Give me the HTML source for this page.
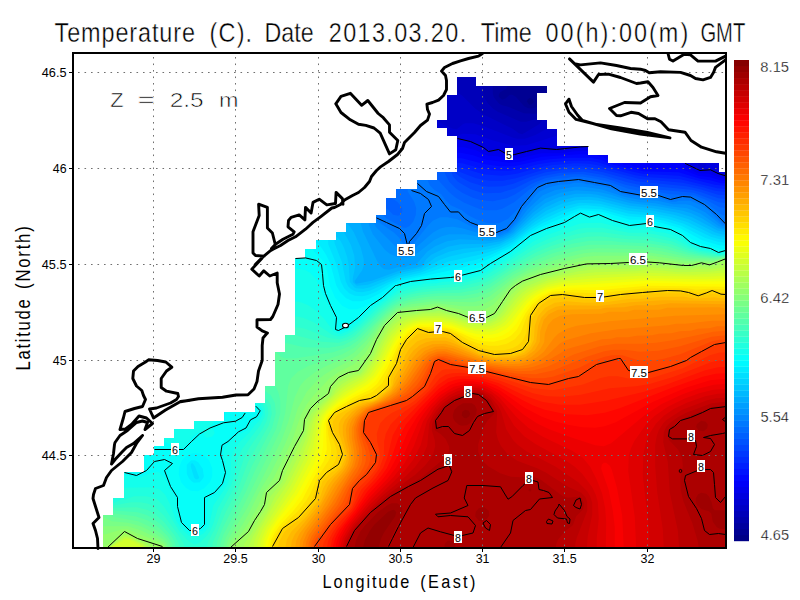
<!DOCTYPE html><html><head><meta charset="utf-8"><style>html,body{margin:0;padding:0;background:#fff;width:800px;height:600px;overflow:hidden}</style></head><body><svg width="800" height="600" viewBox="0 0 800 600" style="position:absolute;left:0;top:0">
<rect x="0" y="0" width="800" height="600" fill="#fff"/>
<defs><clipPath id="m"><polygon points="103,547.5 103,515 113,515 113,498 124,498 124,472 144,472 144,455 154,455 154,446 164,446 164,438 174,438 174,429 194,429 194,421 224.5,421 224.5,412 255,412 255,403 265,403 265,386 275,386 275,352 285,352 285,335 295,335 295,258 305,258 305,249 316,249 316,240 336,240 336,232 346,232 346,223 376,223 376,215 386,215 386,198 396,198 396,189 417,189 417,180 437,180 437,172 457,172 457,136 447,136 447,128 437,128 437,120 447,120 447,95 457,95 457,77 476,77 476,86 547,86 547,93 537,93 537,120 547,120 547,129 557,129 557,146 588,146 588,155 608,155 608,163 719,163 719,172 725.5,172 725.5,547.5"/></clipPath></defs>
<g clip-path="url(#m)">
<rect x="73" y="53" width="653" height="495" fill="#000086"/>
<path fill="#000093" fill-rule="evenodd" d="M530.2 97.8L532.8 99.2L533.8 101.8L531.8 104.2L529.2 104.8L526.8 101.2L527.8 99.2ZM72.2 52.2L72.2 548.8L726.8 548.8L726.8 52.2Z"/>
<path fill="#00009f" fill-rule="evenodd" d="M72.2 52.2L72.2 548.8L726.8 548.8L726.8 52.2L652.2 52.2L652.2 53.8L637.8 68.2L635.2 68.2L627.8 76.2L624.8 76.8L621.8 80.2L619.8 80.2L615.8 84.2L612.8 84.8L607.8 90.2L604.8 90.8L597.8 98.2L592.8 98.8L592.2 100.2L586.8 100.8L586.2 102.2L580.8 102.8L580.2 104.2L574.8 104.8L574.2 106.2L566.8 106.8L565.8 108.8L553.8 108.8L549.8 106.2L539.8 106.2L532.8 108.2L528.2 108.2L524.2 106.2L515.8 96.8L512.2 94.8L509.8 94.8L505.8 98.2L502.2 99.8L498.8 96.8L498.8 94.8L500.2 92.2L506.2 88.8L507.2 86.8L507.2 52.2Z"/>
<path fill="#0000ac" fill-rule="evenodd" d="M72.2 52.2L72.2 548.8L726.8 548.8L726.8 52.2L652.8 52.2L652.8 53.8L637.8 68.8L635.2 68.8L628.2 76.8L625.8 76.8L622.2 80.8L619.8 80.8L616.2 84.8L613.8 84.8L608.2 90.8L605.8 90.8L598.2 98.8L593.8 98.8L592.2 100.8L587.8 100.8L586.2 102.8L581.8 102.8L580.2 104.8L575.8 104.8L574.2 106.8L567.8 106.8L565.8 109.2L551.2 108.8L549.8 110.8L546.2 112.8L533.8 113.8L523.8 113.2L508.2 106.8L502.2 105.2L499.2 103.8L493.8 97.2L492.8 93.2L492.8 74.2L497.2 68.8L497.2 65.8L499.2 64.2L499.2 61.8L500.8 60.8L501.2 57.8L503.2 55.8L503.2 52.2Z"/>
<path fill="#0000b9" fill-rule="evenodd" d="M72.2 52.2L72.2 548.8L726.8 548.8L726.8 52.2L652.8 52.2L652.8 54.2L638.2 68.8L635.8 68.8L627.8 77.2L625.2 77.2L621.8 81.2L619.2 81.2L615.8 85.2L613.2 85.2L607.8 91.2L605.2 91.2L597.8 99.2L593.8 99.2L592.2 101.2L587.8 101.2L586.2 103.2L581.8 103.2L580.2 105.2L575.8 105.2L574.2 107.2L567.8 107.2L566.2 109.2L551.8 109.2L541.8 118.2L538.2 118.2L526.2 121.8L520.8 121.8L497.8 111.8L493.2 108.8L487.8 103.2L484.2 97.2L482.8 91.2L483.2 84.2L490.8 75.8L490.8 73.8L496.2 68.2L496.2 65.8L498.2 64.2L498.2 61.8L500.2 60.2L500.2 57.8L502.2 56.2L502.2 52.2Z"/>
<path fill="#0000c6" fill-rule="evenodd" d="M72.2 52.2L72.2 548.8L726.8 548.8L726.8 52.2L653.2 52.2L653.2 53.8L637.8 69.2L635.8 69.2L628.2 77.2L625.8 77.2L622.2 81.2L619.8 81.2L616.2 85.2L613.8 85.2L608.2 91.2L605.8 91.2L598.2 99.2L593.8 99.8L591.8 101.8L587.8 101.8L585.8 103.8L581.8 103.8L579.8 105.8L575.8 105.8L573.8 107.8L567.8 107.8L566.2 109.8L552.2 109.8L543.8 118.2L539.2 124.2L522.2 134.2L518.8 133.2L512.8 128.8L484.2 114.8L474.8 108.2L461.8 95.2L454.2 90.8L446.8 83.2L444.2 83.2L438.2 77.2L436.2 77.2L434.2 75.2L432.2 75.2L430.2 73.2L428.2 73.2L424.2 69.2L422.2 69.2L420.2 67.2L418.2 67.2L416.2 65.2L414.2 65.2L412.2 63.2L410.2 63.2L406.2 59.2L404.2 59.2L402.2 57.2L400.2 57.2L398.2 55.2L396.2 55.2L394.8 53.8L394.8 52.2Z"/>
<path fill="#0000d2" fill-rule="evenodd" d="M72.2 52.2L72.2 548.8L726.8 548.8L726.8 52.2L653.2 52.2L653.2 54.2L638.2 69.2L636.2 69.2L628.2 77.8L625.8 77.8L622.2 81.8L619.8 81.8L616.2 85.8L613.8 85.8L608.2 91.8L605.8 91.8L598.2 99.8L594.2 99.8L592.8 101.8L588.2 101.8L586.8 103.8L582.2 103.8L580.8 105.8L576.2 105.8L574.8 107.8L568.2 107.8L567.8 109.2L559.2 117.2L558.8 120.2L554.2 124.8L547.2 127.8L544.2 130.2L534.8 135.2L524.8 138.8L517.2 138.8L513.2 137.8L483.8 126.2L473.2 123.2L465.2 123.2L462.8 124.2L456.8 129.2L452.8 128.8L439.8 122.8L437.8 120.2L437.8 112.2L436.2 112.2L435.8 110.2L432.2 110.2L431.8 108.2L430.2 108.2L429.8 106.2L427.8 105.8L427.8 104.2L424.2 104.2L423.8 102.2L420.2 102.2L419.8 100.2L416.2 100.2L415.8 98.2L412.2 98.2L411.8 96.2L406.2 96.2L405.8 94.2L402.2 94.2L401.8 92.2L396.2 92.2L395.8 90.2L390.2 90.2L389.8 88.2L386.2 88.2L385.8 86.2L380.2 86.2L379.8 84.2L376.2 84.2L375.8 82.2L370.2 82.2L369.8 80.2L364.2 80.2L363.8 78.2L360.2 78.2L359.8 76.2L354.2 76.2L353.8 74.2L350.2 74.2L349.8 72.2L344.2 72.2L343.8 70.2L338.2 70.2L337.8 68.2L334.2 68.2L333.8 66.2L328.2 66.2L327.8 64.2L324.2 64.2L323.8 62.2L318.2 62.2L317.8 60.2L312.2 60.2L311.8 58.2L308.2 58.2L307.8 56.2L302.2 56.2L301.8 52.2Z"/>
<path fill="#0000df" fill-rule="evenodd" d="M72.2 52.2L72.2 548.8L726.8 548.8L726.8 52.2L706.2 52.2L706.2 165.8L703.2 168.8L700.8 168.8L698.2 166.2L698.2 52.2L653.8 52.2L653.2 54.8L638.8 69.2L635.8 69.8L628.8 77.8L626.2 77.8L622.8 81.8L620.2 81.8L616.8 85.8L614.2 85.8L608.8 91.8L606.2 91.8L598.8 99.8L595.2 100.8L594.8 103.8L592.8 105.2L592.8 107.8L590.8 109.2L590.8 111.8L586.8 115.2L586.8 117.8L578.8 125.2L578.8 127.8L571.8 134.2L559.8 134.8L526.2 145.2L513.2 145.8L492.2 140.2L475.2 134.2L462.8 133.8L454.2 136.8L452.2 139.2L452.2 143.8L450.8 144.2L445.8 150.2L442.8 150.8L439.8 154.2L436.2 154.2L435.2 152.2L418.2 152.2L416.8 150.2L412.2 150.2L410.8 148.2L408.2 148.2L406.8 146.2L404.2 146.2L402.8 144.2L398.2 144.2L396.8 142.2L394.2 142.2L392.8 140.2L390.2 140.2L388.8 138.2L386.2 138.2L382.8 134.2L380.2 134.2L376.8 130.2L374.2 130.2L370.8 126.2L368.2 126.2L365.2 122.8L362.2 122.2L359.2 118.8L356.2 118.2L354.2 116.2L352.2 116.2L349.2 112.8L346.2 112.2L345.2 110.8L342.2 110.2L340.2 108.2L338.2 108.2L335.2 104.8L332.2 104.2L330.2 102.2L328.2 102.2L325.2 98.8L322.2 98.2L320.2 96.2L318.2 96.2L315.2 92.8L312.2 92.2L311.2 90.8L308.2 90.2L306.2 88.2L304.2 88.2L301.2 84.8L298.2 84.2L297.2 82.8L294.2 82.2L291.2 78.8L288.2 78.2L286.2 76.2L284.2 76.2L272.8 64.2L270.2 64.2L259.8 53.8L259.8 52.2Z"/>
<path fill="#0000ec" fill-rule="evenodd" d="M72.2 52.2L72.2 548.8L726.8 548.8L726.8 176.2L722.2 176.2L721.2 174.2L718.2 174.2L717.2 172.2L714.2 172.2L712.8 170.2L698.2 170.2L696.2 168.2L694.2 168.2L692.2 166.2L690.2 166.2L688.2 163.8L688.8 52.2L653.8 52.2L653.8 54.8L638.8 69.8L636.2 69.8L629.2 78.2L626.2 78.2L623.2 82.2L620.2 82.2L617.2 86.2L614.2 86.2L614.2 87.2L612.2 88.2L609.2 92.2L606.2 92.2L606.2 93.2L604.2 94.2L604.2 95.2L602.2 96.2L599.2 100.2L597.8 100.2L595.8 102.2L595.8 104.8L593.8 106.2L593.8 108.8L591.8 110.2L591.8 113.2L588.2 116.2L588.2 119.2L586.2 120.2L585.8 122.2L584.2 122.2L583.8 124.2L582.2 124.2L581.8 126.2L580.2 126.2L580.2 129.8L578.2 130.2L578.2 131.8L576.8 133.2L576.8 148.2L566.8 148.2L565.8 150.2L548.2 150.2L546.2 148.2L541.8 148.2L539.8 150.2L533.8 150.2L531.8 152.2L525.8 152.2L523.8 154.2L517.8 154.2L515.8 156.2L510.2 156.2L509.2 154.8L506.2 154.2L500.2 150.2L495.8 150.2L493.8 152.2L488.2 152.2L482.2 146.2L480.2 146.2L474.2 142.2L468.2 142.2L466.2 140.2L458.2 140.2L456.2 141.2L445.8 151.2L443.8 151.2L440.8 154.2L435.8 154.2L435.2 152.8L433.8 152.2L418.2 152.8L416.8 150.8L412.2 150.8L410.8 148.8L408.2 148.8L406.8 146.8L404.2 146.8L402.8 144.8L398.2 144.8L396.8 142.8L394.2 142.8L392.8 140.8L390.2 140.8L388.8 138.8L386.2 138.8L382.8 134.8L380.2 134.8L376.8 130.8L374.2 130.8L370.8 126.8L368.2 126.8L364.8 122.8L362.2 122.8L358.8 118.8L356.2 118.8L354.8 116.8L352.2 116.8L348.8 112.8L346.2 112.8L344.8 110.8L342.2 110.8L340.8 108.8L338.2 108.8L334.8 104.8L332.2 104.8L330.8 102.8L328.2 102.8L324.8 98.8L322.2 98.8L320.8 96.8L318.2 96.8L314.8 92.8L312.2 92.8L310.8 90.8L308.2 90.8L306.8 88.8L304.2 88.8L300.8 84.8L298.2 84.8L296.8 82.8L294.2 82.8L290.8 78.8L288.2 78.8L286.8 76.8L283.8 76.2L283.2 74.8L282.2 74.8L281.2 72.8L280.2 72.8L279.2 70.8L278.2 70.8L277.2 68.8L273.2 65.8L273.2 64.8L269.8 64.2L269.2 62.8L268.2 62.8L267.2 60.8L266.2 60.8L265.2 58.8L264.2 58.8L263.2 56.8L259.8 54.2L259.8 52.2Z"/>
<path fill="#0000f9" fill-rule="evenodd" d="M72.2 52.2L72.2 548.8L726.8 548.8L726.8 178.8L721.2 178.2L708.8 173.8L697.8 173.2L685.8 167.2L682.2 163.8L682.2 52.2L654.2 52.2L653.8 55.2L639.2 69.8L636.2 70.2L631.2 76.2L631.2 80.2L629.2 81.8L629.2 84.2L627.2 85.8L627.2 90.2L625.2 91.8L625.2 94.2L623.2 95.8L623.2 100.2L621.2 101.8L621.2 104.2L619.2 105.8L619.2 110.2L617.2 111.8L617.2 114.2L615.2 115.8L615.2 120.2L613.2 121.8L613.2 124.2L611.2 125.8L611.2 128.2L609.2 129.8L609.2 134.2L605.2 137.8L605.2 140.2L601.2 143.8L601.2 146.2L595.8 150.8L574.8 151.2L561.2 153.2L541.2 153.2L515.8 159.2L509.2 159.2L497.2 156.2L487.8 155.8L475.8 150.2L463.8 147.2L452.2 147.2L446.2 151.8L443.8 151.8L440.8 154.8L436.2 154.8L434.8 152.8L417.8 152.8L416.8 150.8L412.2 150.8L410.8 148.8L408.2 148.8L406.8 146.8L404.2 146.8L402.8 144.8L398.2 144.8L396.8 142.8L394.2 142.8L392.8 140.8L390.2 140.8L388.8 138.8L386.2 138.8L382.8 134.8L380.2 134.8L376.8 130.8L374.2 130.8L370.2 126.8L367.8 126.8L364.2 122.8L361.8 122.8L358.2 118.8L355.8 118.8L354.2 116.8L351.8 116.8L348.2 112.8L345.8 112.8L344.2 110.8L341.8 110.8L340.2 108.8L337.8 108.8L334.2 104.8L331.8 104.8L330.2 102.8L327.8 102.8L324.2 98.8L321.8 98.8L320.2 96.8L317.8 96.8L314.2 92.8L311.8 92.8L310.2 90.8L307.8 90.8L306.2 88.8L303.8 88.8L300.2 84.8L297.8 84.8L296.2 82.8L293.8 82.8L290.2 78.8L288.2 78.8L286.2 76.8L284.2 76.8L272.8 64.8L270.2 64.8L259.2 53.8L259.2 52.2Z"/>
<path fill="#0006ff" fill-rule="evenodd" d="M72.2 52.2L72.2 548.8L726.8 548.8L726.8 180.8L721.8 180.8L710.2 177.2L698.2 175.8L679.8 168.2L641.8 168.8L639.2 166.8L633.8 166.8L631.2 164.8L623.8 164.8L621.2 162.8L614.2 162.8L611.8 160.8L609.8 160.8L607.8 158.8L605.8 158.8L602.8 156.8L599.8 156.8L596.2 154.8L579.2 154.2L541.8 156.8L520.2 161.8L508.8 162.8L486.2 159.8L473.2 155.2L460.8 152.8L444.2 152.8L441.2 154.8L435.8 154.8L434.2 152.8L417.8 152.8L416.2 150.8L411.8 150.8L410.2 148.8L407.8 148.8L406.2 146.8L403.8 146.8L402.2 144.8L397.8 144.8L396.2 142.8L393.8 142.8L392.2 140.8L389.8 140.8L388.2 138.8L385.8 138.8L382.2 134.8L379.8 134.8L376.2 130.8L373.8 130.8L370.2 126.8L367.8 126.8L364.2 122.8L361.8 122.8L358.2 118.8L355.8 118.8L354.2 116.8L351.8 116.8L348.2 112.8L345.8 112.8L344.2 110.8L341.8 110.8L340.2 108.8L337.8 108.8L334.2 104.8L331.8 104.8L330.2 102.8L327.8 102.8L324.2 98.8L321.8 98.8L320.2 96.8L317.8 96.8L314.2 92.8L311.8 92.8L310.2 90.8L307.8 90.8L306.2 88.8L303.8 88.8L300.2 84.8L297.8 84.8L296.2 82.8L293.8 82.8L290.2 78.8L287.8 78.8L286.2 76.8L284.2 76.8L272.8 64.8L270.2 64.8L259.2 53.8L259.2 52.2Z"/>
<path fill="#0013ff" fill-rule="evenodd" d="M72.2 52.2L72.2 548.8L726.8 548.8L726.8 183.2L721.2 183.2L710.2 180.2L700.2 178.8L678.8 172.2L643.2 171.2L613.2 164.8L600.8 159.8L590.8 157.8L569.8 157.8L549.8 159.2L538.8 160.8L514.2 166.2L499.2 166.2L485.2 164.2L461.8 158.2L444.2 157.8L441.2 155.2L436.2 155.2L434.2 153.2L418.2 153.2L415.8 150.8L411.8 150.8L410.8 149.2L407.8 148.8L406.8 147.2L403.8 146.8L401.8 144.8L397.8 144.8L396.8 143.2L393.8 142.8L391.8 140.8L386.2 139.2L382.2 135.2L380.2 135.2L376.2 131.2L374.2 131.2L370.2 127.2L368.2 127.2L364.2 123.2L362.2 123.2L358.2 119.2L356.2 119.2L354.2 117.2L352.2 117.2L348.2 113.2L346.2 113.2L344.2 111.2L342.2 111.2L340.2 109.2L338.2 109.2L334.2 105.2L332.2 105.2L330.2 103.2L328.2 103.2L324.2 99.2L322.2 99.2L320.2 97.2L318.2 97.2L314.2 93.2L312.2 93.2L310.2 91.2L308.2 91.2L306.2 89.2L304.2 89.2L300.2 85.2L298.2 85.2L296.2 83.2L294.2 83.2L290.2 79.2L288.2 79.2L286.2 77.2L283.8 76.8L272.2 64.8L269.8 64.8L259.2 54.2L259.2 52.2Z"/>
<path fill="#0020ff" fill-rule="evenodd" d="M72.2 52.2L72.2 548.8L726.8 548.8L726.8 186.2L714.8 184.8L678.8 175.8L642.2 173.8L613.2 167.2L598.2 162.2L589.2 160.8L568.2 160.8L550.8 162.2L538.2 164.2L519.2 169.2L508.8 170.8L491.2 170.2L480.2 168.2L462.2 163.2L448.2 162.2L440.8 155.2L435.8 155.2L434.2 153.2L417.8 153.2L416.2 151.2L412.2 151.2L410.2 149.2L408.2 149.2L402.2 145.2L398.2 145.2L396.2 143.2L394.2 143.2L392.2 141.2L389.2 140.8L388.2 139.2L385.8 139.2L382.2 135.2L379.8 135.2L376.2 131.2L373.8 131.2L370.2 127.2L367.8 127.2L364.2 123.2L361.8 123.2L358.2 119.2L355.8 119.2L354.2 117.2L351.8 117.2L348.2 113.2L345.8 113.2L344.2 111.2L341.8 111.2L340.2 109.2L337.8 109.2L334.2 105.2L331.8 105.2L330.2 103.2L327.8 103.2L324.2 99.2L321.8 99.2L320.2 97.2L317.8 97.2L314.2 93.2L311.8 93.2L310.2 91.2L307.8 91.2L306.2 89.2L303.8 89.2L300.2 85.2L297.8 85.2L296.2 83.2L293.8 83.2L290.2 79.2L287.8 79.2L286.2 77.2L283.8 76.8L272.8 65.2L269.8 64.8L259.2 54.2L259.2 52.2Z"/>
<path fill="#002dff" fill-rule="evenodd" d="M72.2 52.2L72.2 548.8L726.8 548.8L726.8 189.2L717.2 188.2L680.2 179.2L649.2 177.2L635.2 175.2L597.8 165.2L588.8 163.8L574.8 163.2L551.2 165.2L539.8 167.2L516.8 173.8L501.8 175.8L483.2 174.2L461.8 167.8L453.8 166.8L450.2 164.8L440.2 155.2L435.8 155.2L433.8 153.2L417.8 153.2L416.2 151.2L411.8 151.2L410.2 149.2L407.8 149.2L406.2 147.2L403.8 147.2L402.2 145.2L397.8 145.2L396.2 143.2L393.8 143.2L392.2 141.2L389.8 141.2L387.8 139.2L385.8 139.2L381.8 135.2L379.8 135.2L375.8 131.2L373.8 131.2L369.8 127.2L367.8 127.2L363.8 123.2L361.8 123.2L357.8 119.2L355.8 119.2L353.8 117.2L351.8 117.2L347.8 113.2L345.8 113.2L343.8 111.2L341.8 111.2L339.8 109.2L337.8 109.2L333.8 105.2L331.8 105.2L329.8 103.2L327.8 103.2L323.8 99.2L321.8 99.2L319.8 97.2L317.8 97.2L313.8 93.2L311.8 93.2L309.8 91.2L307.8 91.2L305.8 89.2L303.8 89.2L299.8 85.2L297.8 85.2L295.8 83.2L293.8 83.2L289.8 79.2L287.8 79.2L285.8 77.2L284.2 77.2L272.8 65.2L270.2 65.2L258.8 53.8L258.8 52.2Z"/>
<path fill="#0039ff" fill-rule="evenodd" d="M72.2 52.2L72.2 548.8L726.8 548.8L726.8 192.2L714.8 190.8L703.2 187.2L682.8 182.8L638.8 178.8L598.2 168.2L584.2 166.2L570.8 166.2L545.2 169.2L515.8 178.2L502.8 180.8L489.2 180.8L476.2 178.2L456.8 170.8L440.8 155.8L436.2 155.8L434.2 153.8L418.2 153.8L415.8 151.2L411.8 151.2L409.8 149.2L407.8 149.2L401.8 145.2L397.8 145.2L391.8 141.2L389.2 141.2L388.2 139.8L385.2 139.2L382.2 135.8L379.2 135.2L376.2 131.8L373.2 131.2L370.2 127.8L367.2 127.2L364.2 123.8L361.2 123.2L358.2 119.8L356.2 119.8L354.2 117.8L351.2 117.2L348.2 113.8L346.2 113.8L344.2 111.8L342.2 111.8L340.2 109.8L337.2 109.2L334.2 105.8L332.2 105.8L330.2 103.8L327.2 103.2L324.2 99.8L322.2 99.8L320.2 97.8L317.2 97.2L314.2 93.8L312.2 93.8L310.2 91.8L308.2 91.8L306.2 89.8L303.2 89.2L300.2 85.8L298.2 85.8L296.2 83.8L293.2 83.2L290.2 79.8L288.2 79.8L285.8 77.2L284.2 77.2L272.2 65.2L270.2 65.2L258.8 53.8L258.8 52.2Z"/>
<path fill="#0046ff" fill-rule="evenodd" d="M72.2 52.2L72.2 548.8L726.8 548.8L726.8 195.2L718.2 194.8L700.2 189.2L686.2 186.2L636.2 181.2L603.2 172.2L586.2 169.2L567.8 169.2L545.8 172.2L530.8 176.8L513.2 183.8L502.8 186.2L488.8 186.8L481.8 185.8L470.2 182.2L459.8 176.8L455.2 172.8L452.8 168.2L440.2 155.8L435.8 155.8L434.2 153.8L417.8 153.8L416.2 151.8L412.2 151.8L410.2 149.8L408.2 149.8L406.2 147.8L403.2 147.2L402.2 145.8L398.2 145.8L396.2 143.8L393.2 143.2L392.2 141.8L389.8 141.8L388.2 139.8L385.8 139.8L382.2 135.8L379.8 135.8L376.2 131.8L373.8 131.8L370.2 127.8L367.8 127.8L364.2 123.8L361.8 123.8L358.2 119.8L355.8 119.8L354.2 117.8L351.8 117.8L348.2 113.8L345.8 113.8L344.2 111.8L341.8 111.8L340.2 109.8L337.8 109.8L334.2 105.8L331.8 105.8L330.2 103.8L327.8 103.8L324.2 99.8L321.8 99.8L320.2 97.8L317.8 97.8L314.2 93.8L311.8 93.8L310.2 91.8L307.8 91.8L306.2 89.8L303.8 89.8L300.2 85.8L297.8 85.8L296.2 83.8L293.8 83.8L290.2 79.8L287.8 79.8L286.2 77.8L283.8 77.2L272.2 65.2L269.8 65.2L258.8 54.2L258.8 52.2Z"/>
<path fill="#0053ff" fill-rule="evenodd" d="M72.2 52.2L72.2 548.8L726.8 548.8L726.8 199.2L718.2 198.2L701.2 192.2L691.2 189.8L639.2 184.8L627.2 182.2L602.2 174.8L583.8 171.8L560.2 172.8L541.8 176.2L531.2 180.2L515.2 188.2L500.8 192.8L486.2 193.2L480.2 192.2L470.8 189.2L457.8 181.8L452.8 176.2L450.2 166.8L439.8 155.8L435.2 155.8L433.8 153.8L417.2 153.8L416.2 151.8L411.8 151.8L410.2 149.8L407.8 149.8L406.2 147.8L403.8 147.8L402.2 145.8L397.8 145.8L396.2 143.8L393.8 143.8L392.2 141.8L389.2 141.8L387.8 139.8L385.2 139.8L381.8 135.8L379.2 135.8L375.8 131.8L373.2 131.8L369.8 127.8L367.2 127.8L363.8 123.8L361.2 123.8L357.8 119.8L355.2 119.8L353.8 117.8L351.2 117.8L347.8 113.8L345.2 113.8L343.8 111.8L341.2 111.8L339.8 109.8L337.2 109.8L333.8 105.8L331.2 105.8L329.8 103.8L327.2 103.8L323.8 99.8L321.2 99.8L319.8 97.8L317.2 97.8L313.8 93.8L311.2 93.8L309.8 91.8L307.2 91.8L305.8 89.8L303.2 89.8L299.8 85.8L297.2 85.8L295.8 83.8L293.2 83.8L289.8 79.8L287.8 79.8L285.8 77.8L283.8 77.2L271.8 65.2L269.8 65.2L258.8 54.2L258.8 52.2Z"/>
<path fill="#0060ff" fill-rule="evenodd" d="M72.2 52.2L72.2 548.8L726.8 548.8L726.8 203.2L718.8 202.2L693.8 192.8L642.2 188.2L625.2 184.8L605.8 178.2L582.8 174.2L572.8 174.2L558.2 175.8L545.2 178.2L531.8 183.8L515.2 194.2L506.8 198.2L492.8 201.2L481.2 200.2L472.8 197.8L462.2 192.8L455.8 188.2L449.2 181.8L444.8 173.2L444.8 162.2L439.8 156.2L435.2 156.2L433.8 154.2L417.8 154.2L415.8 151.8L411.2 151.8L409.8 149.8L407.2 149.8L405.8 147.8L403.2 147.8L401.8 145.8L397.2 145.8L395.8 143.8L393.2 143.8L391.8 141.8L389.2 141.8L387.8 139.8L384.8 139.8L381.8 135.8L378.8 135.8L375.8 131.8L372.8 131.8L369.8 127.8L366.8 127.8L363.8 123.8L360.8 123.8L357.8 119.8L354.8 119.8L353.8 117.8L350.8 117.8L347.8 113.8L344.8 113.8L343.8 111.8L340.8 111.8L339.8 109.8L336.8 109.8L333.8 105.8L330.8 105.8L329.8 103.8L326.8 103.8L323.8 99.8L320.8 99.8L319.8 97.8L316.8 97.8L313.8 93.8L310.8 93.8L309.8 91.8L306.8 91.8L305.8 89.8L302.8 89.8L299.8 85.8L296.8 85.8L295.8 83.8L292.8 83.8L289.8 79.8L287.2 79.8L285.8 77.8L283.2 77.2L271.8 65.2L269.2 65.2L258.8 54.8L258.8 52.2Z"/>
<path fill="#006cff" fill-rule="evenodd" d="M310.2 112.2L392.2 194.2L392.2 198.2L397.8 202.2L402.2 207.8L402.2 211.8L400.2 214.8L398.2 215.8L393.2 214.8L387.2 208.8L382.2 208.2L381.8 206.8L380.2 206.2L376.8 202.2L374.2 202.2L369.2 196.2L366.2 196.2L365.2 194.2L362.2 194.2L359.2 190.2L356.2 190.2L355.8 188.2L353.8 187.8L353.8 184.2L352.2 184.2L351.8 182.2L349.8 181.8L349.8 178.2L348.2 178.2L347.8 176.2L345.8 175.8L345.8 172.2L343.8 171.8L343.8 168.2L342.2 168.2L341.8 166.2L339.8 165.8L339.8 162.2L337.8 161.8L337.8 158.2L336.2 158.2L335.8 156.2L333.8 155.8L333.8 152.2L331.8 151.8L331.8 148.2L330.2 148.2L329.8 146.2L327.8 145.8L327.8 142.2L325.8 141.8L325.8 138.2L324.2 138.2L323.8 136.2L321.8 135.8L321.8 132.2L319.8 131.8L319.8 128.2L318.2 128.2L317.8 126.2L315.8 125.8L315.8 122.2L313.8 121.8L313.8 118.2L312.2 118.2L311.8 116.2L309.8 115.8ZM307.8 110.8L308.2 110.2L309.8 111.8L308.2 112.2ZM72.2 52.2L72.2 548.8L726.8 548.8L726.8 208.2L719.8 207.2L705.8 199.8L694.2 195.2L669.8 194.2L660.2 192.2L641.8 191.2L628.2 188.8L612.2 182.8L595.8 178.8L582.8 176.8L572.8 176.8L565.8 178.2L555.8 178.8L546.2 180.8L538.2 183.8L529.8 189.2L514.2 202.2L502.2 208.8L496.2 210.2L485.2 210.2L480.2 209.2L464.2 202.8L455.2 197.2L449.2 192.2L438.8 180.8L423.2 166.2L423.2 163.8L421.2 162.2L421.2 159.8L419.2 158.2L419.2 155.2L415.8 152.2L411.8 152.2L409.8 150.2L407.8 150.2L405.8 148.2L402.8 147.8L401.8 146.2L397.8 146.2L395.8 144.2L393.8 144.2L391.8 142.2L388.8 141.8L387.8 140.2L385.2 140.2L381.8 136.2L379.2 136.2L375.8 132.2L373.2 132.2L369.8 128.2L367.2 128.2L363.8 124.2L361.2 124.2L357.8 120.2L355.2 120.2L353.8 118.2L351.2 118.2L347.8 114.2L345.2 114.2L343.8 112.2L341.2 112.2L339.8 110.2L337.2 110.2L333.8 106.2L331.2 106.2L329.8 104.2L327.2 104.2L323.8 100.2L321.2 100.2L319.8 98.2L317.2 98.2L313.8 94.2L311.2 94.2L309.8 92.2L307.2 92.2L305.8 90.2L303.2 90.2L299.8 86.2L297.2 86.2L295.8 84.2L293.2 84.2L289.8 80.2L287.8 80.2L285.2 77.8L283.2 77.2L272.2 65.8L269.2 65.2L258.8 54.8L258.2 52.2Z"/>
<path fill="#0079ff" fill-rule="evenodd" d="M72.2 52.2L72.2 548.8L726.8 548.8L726.8 216.2L721.8 214.8L707.2 203.8L693.8 197.2L677.2 197.2L671.8 198.2L662.2 195.2L642.2 194.8L638.8 193.2L628.2 192.2L618.8 188.8L612.2 185.2L608.2 184.8L606.2 183.2L601.2 183.2L596.2 181.2L586.8 180.8L584.2 179.2L571.8 179.2L568.8 180.8L555.8 181.2L553.2 182.8L545.8 183.2L536.8 187.8L531.2 192.8L523.2 203.2L508.2 218.8L498.8 223.2L488.2 223.2L476.2 219.2L468.2 215.2L461.8 210.2L450.8 205.2L444.8 199.2L441.2 194.2L434.2 189.8L429.8 185.2L427.8 180.8L427.8 172.2L422.2 166.8L422.2 164.2L420.2 162.8L420.2 160.2L418.2 158.8L418.2 156.2L416.2 154.8L415.8 152.2L410.8 152.2L409.8 150.2L406.8 150.2L405.8 148.2L402.8 148.2L401.8 146.2L396.8 146.2L395.8 144.2L392.8 144.2L391.8 142.2L389.2 142.2L391.2 143.8L391.2 148.2L393.2 149.8L393.2 152.2L395.2 153.8L395.2 158.2L397.2 159.8L397.2 162.2L399.2 163.8L399.2 166.2L401.2 167.8L401.2 170.2L403.2 172.2L403.2 174.8L406.8 178.2L407.8 191.8L414.2 201.8L416.2 208.2L415.8 214.8L413.2 221.8L409.2 226.2L405.8 227.8L403.2 227.8L386.2 218.2L383.8 215.8L382.2 210.2L376.2 203.8L373.8 203.8L368.2 197.8L365.8 197.8L364.2 195.8L361.8 195.8L358.2 191.8L355.8 191.2L355.2 189.2L353.2 187.8L353.2 185.2L349.2 181.8L349.2 179.2L345.2 175.8L345.2 173.2L343.2 171.8L343.2 169.2L339.2 165.8L339.2 163.2L337.2 161.8L337.2 159.2L333.2 155.8L333.2 153.2L331.2 151.8L331.2 149.2L327.2 145.8L327.2 143.2L325.2 141.8L325.2 139.2L321.2 135.8L321.2 133.2L319.2 131.8L319.2 129.2L315.2 125.8L315.2 123.2L313.2 121.8L313.2 119.2L309.2 115.8L309.2 113.2L307.2 111.8L307.2 108.8L303.2 105.8L303.8 103.2L299.8 99.8L299.8 97.2L295.8 93.8L295.8 91.2L291.8 87.8L291.8 85.2L287.8 81.8L287.8 80.2L285.8 78.2L283.8 77.8L272.2 65.8L269.8 65.8L258.2 54.2L258.2 52.2Z"/>
<path fill="#0086ff" fill-rule="evenodd" d="M72.2 52.2L72.2 548.8L726.8 548.8L726.8 225.2L724.2 225.2L721.2 223.2L708.2 209.8L701.2 205.2L690.2 200.8L678.2 200.8L676.2 201.8L671.8 201.8L657.2 197.8L641.8 197.8L635.8 195.8L629.8 195.8L622.2 193.8L611.8 188.8L603.8 186.2L595.2 185.8L591.8 184.2L586.8 184.2L582.2 182.8L574.2 182.8L569.8 184.2L559.2 184.8L548.8 187.2L539.2 191.8L535.8 194.8L530.2 202.2L522.8 210.2L517.2 220.2L507.8 231.2L505.2 231.2L498.8 234.8L487.2 233.2L483.8 230.8L470.8 226.2L457.2 219.2L447.8 217.2L440.2 217.2L432.8 220.8L428.2 225.2L410.2 247.8L407.8 247.8L403.2 243.8L399.2 237.8L394.2 232.8L373.8 218.8L363.2 207.8L363.2 205.2L361.2 203.8L361.2 201.2L359.2 199.8L359.2 197.2L357.2 195.8L357.2 193.2L355.2 191.8L354.8 189.2L353.2 188.2L352.8 185.2L349.2 182.2L348.8 179.2L345.2 176.2L345.2 174.2L343.2 172.2L342.8 169.2L339.2 166.2L339.2 164.2L337.2 162.2L336.8 159.2L333.2 156.2L333.2 154.2L331.2 152.2L330.8 149.2L327.2 146.2L327.2 144.2L325.2 142.2L324.8 139.2L321.2 136.2L321.2 134.2L319.2 132.2L318.8 129.2L315.2 126.2L315.2 124.2L313.2 122.2L312.8 119.2L309.2 116.2L309.2 114.2L307.2 112.2L306.8 109.2L303.2 106.2L303.2 103.8L299.2 100.2L299.2 97.8L295.2 94.2L295.2 91.8L291.2 88.2L291.2 85.8L287.2 82.2L287.2 80.2L285.2 78.2L283.2 77.8L271.8 65.8L269.2 65.8L258.2 54.8L258.2 52.2Z"/>
<path fill="#0093ff" fill-rule="evenodd" d="M72.2 52.2L72.2 548.8L726.8 548.8L726.8 226.8L721.8 225.8L705.2 212.2L690.8 205.2L685.8 204.2L673.2 204.2L657.8 200.8L639.8 199.8L624.2 196.8L601.2 189.2L583.8 186.8L574.2 186.8L554.8 190.2L542.8 195.2L527.2 209.8L517.2 223.2L508.2 232.2L500.2 235.8L487.8 235.8L462.2 228.2L452.8 226.8L445.2 227.2L439.8 228.8L432.8 232.8L412.2 250.8L408.2 251.8L404.8 251.2L399.8 249.2L394.8 245.8L376.2 227.2L373.8 222.8L373.8 220.2L362.8 208.2L362.8 205.8L360.8 203.8L360.8 201.8L356.8 195.8L356.8 193.2L354.8 191.8L354.8 189.8L352.8 188.2L352.8 185.8L348.8 182.2L348.8 179.8L344.8 176.2L344.8 173.8L342.8 172.2L342.8 169.8L338.8 166.2L338.8 163.8L336.8 162.2L336.8 159.8L332.8 156.2L332.8 153.8L330.8 152.2L330.8 149.8L326.8 146.2L326.8 143.8L324.8 142.2L324.8 139.8L320.8 136.2L320.8 133.8L318.8 132.2L318.8 129.8L314.8 126.2L314.8 123.8L312.8 122.2L312.8 119.8L308.8 116.2L308.8 113.8L306.8 112.2L306.8 109.8L302.8 106.2L302.8 103.8L298.8 99.8L298.8 97.8L294.8 93.8L294.8 91.8L290.8 87.8L290.8 85.8L286.8 81.8L285.2 78.2L283.2 77.8L271.8 65.8L269.2 65.8L258.2 54.8L258.2 52.2Z"/>
<path fill="#009fff" fill-rule="evenodd" d="M72.2 52.2L72.2 548.8L726.8 548.8L726.8 228.2L723.8 228.2L718.8 226.2L700.8 213.8L687.2 208.2L669.2 206.2L655.2 203.2L640.2 202.2L628.2 200.2L609.2 194.2L597.8 191.8L576.2 190.2L560.8 192.8L545.2 198.8L535.2 206.2L510.8 232.2L502.2 236.8L496.2 238.2L488.2 238.2L464.8 234.2L449.2 234.2L441.8 236.2L433.8 240.2L414.2 255.8L408.2 257.8L400.8 257.8L396.2 256.8L389.8 253.8L384.8 249.8L372.8 234.2L368.8 224.8L368.8 216.2L366.2 212.2L362.8 209.2L362.2 205.8L360.2 204.2L360.2 201.8L358.8 200.8L358.2 197.8L356.8 196.8L356.2 193.8L354.2 191.8L354.2 189.8L352.2 188.2L352.2 185.8L348.2 182.2L348.2 179.8L344.8 176.8L344.2 173.8L342.2 171.8L342.2 169.8L338.8 166.8L338.2 163.8L336.2 161.8L336.2 159.8L332.8 156.8L332.2 153.8L330.2 151.8L330.2 149.8L326.8 146.8L326.2 143.8L324.2 141.8L324.2 139.8L320.8 136.8L320.2 133.8L318.2 131.8L318.2 129.8L314.8 126.8L314.2 123.8L312.8 122.8L312.2 119.8L308.8 116.8L308.2 113.8L306.2 111.8L306.2 109.8L302.8 106.8L302.2 103.8L298.8 100.8L298.2 97.8L294.8 94.8L294.2 91.8L290.8 88.8L290.2 85.8L286.8 82.8L286.2 79.8L282.8 77.8L282.2 76.2L280.8 75.8L280.2 74.2L278.8 73.8L278.2 72.2L272.2 67.2L272.2 66.2L268.8 65.8L268.2 64.2L266.8 63.8L266.2 62.2L264.8 61.8L264.2 60.2L258.2 55.2L257.8 52.2Z"/>
<path fill="#00acff" fill-rule="evenodd" d="M72.2 52.2L72.2 548.8L726.8 548.8L726.8 230.2L717.8 228.2L701.8 218.2L691.2 213.2L682.8 210.8L657.2 206.2L630.8 203.2L597.2 194.8L589.2 193.8L575.8 193.8L558.8 197.2L545.2 203.2L532.8 212.8L512.8 232.8L503.2 238.2L491.2 240.8L459.2 239.2L446.8 241.2L435.2 246.2L427.2 251.8L415.8 264.8L407.2 265.8L405.2 267.2L397.8 267.2L389.2 269.8L384.2 269.2L380.8 266.8L377.2 261.2L362.8 231.2L360.8 223.8L360.8 206.2L359.8 205.2L359.8 202.2L357.8 200.8L357.8 198.2L356.2 197.2L355.8 193.8L354.2 192.8L353.8 189.8L352.2 189.2L352.2 186.2L348.2 182.8L348.2 180.2L344.2 176.8L344.2 174.2L342.2 172.8L342.2 170.2L338.2 166.8L338.2 164.2L336.2 162.8L336.2 160.2L332.2 156.8L332.2 154.2L330.2 152.8L330.2 150.2L326.2 146.8L326.2 144.2L324.2 142.8L324.2 140.2L320.2 136.8L320.2 134.2L318.2 132.8L318.2 130.2L314.2 126.8L314.2 124.2L312.2 122.8L312.2 120.2L308.2 116.8L308.2 114.2L306.2 112.8L306.2 110.2L302.2 106.8L302.2 104.2L298.2 100.8L298.2 98.2L294.2 94.8L294.2 92.2L290.2 88.8L290.2 86.2L286.2 82.8L286.2 80.2L283.2 78.2L271.8 66.2L269.2 66.2L257.8 54.8L257.8 52.2Z"/>
<path fill="#00b9ff" fill-rule="evenodd" d="M72.2 52.2L72.2 548.8L726.8 548.8L726.8 232.2L717.8 230.8L692.2 217.2L677.8 212.8L653.2 208.2L630.2 205.8L597.8 197.8L588.2 196.8L574.8 197.2L559.8 200.8L544.8 207.8L534.2 215.2L514.2 233.8L509.2 237.2L500.8 241.2L485.8 243.8L460.8 244.2L447.8 246.8L431.2 254.8L425.8 259.8L422.2 265.8L416.2 267.8L399.2 270.8L371.8 280.8L356.2 283.8L354.8 282.2L354.8 280.8L362.2 270.2L363.8 265.2L363.8 259.2L360.8 247.8L353.8 232.2L349.8 226.2L345.8 222.2L338.2 222.2L337.8 220.2L336.2 220.2L335.8 218.2L334.2 218.2L333.8 216.2L332.2 216.2L331.8 214.2L330.2 214.2L329.8 212.2L328.2 212.2L327.8 210.2L326.2 210.2L325.8 208.2L324.2 208.2L323.8 206.2L322.2 206.2L321.8 204.2L320.2 204.2L319.8 202.2L318.2 202.2L317.8 200.2L316.2 200.2L315.8 198.2L314.2 198.2L313.8 196.2L312.2 196.2L311.8 194.2L310.2 194.2L309.8 192.2L307.8 191.8L307.8 188.2L305.8 187.8L305.8 184.2L304.2 184.2L303.8 182.2L301.8 181.8L301.8 178.2L299.8 177.8L299.8 174.2L298.2 174.2L297.8 172.2L295.8 171.8L295.8 168.2L293.8 167.8L293.8 164.2L292.2 164.2L291.8 162.2L289.8 161.8L289.8 158.2L287.8 157.8L287.8 154.2L286.2 154.2L285.8 152.2L283.8 151.8L283.8 148.2L281.8 147.8L281.8 144.2L280.2 144.2L279.8 142.2L277.8 141.8L277.8 138.2L275.8 137.8L275.8 134.2L274.2 134.2L273.8 132.2L271.8 131.8L271.8 128.2L269.8 127.8L269.8 124.2L268.2 124.2L267.8 122.2L265.8 121.8L265.8 118.2L263.8 117.8L263.8 114.2L262.2 114.2L261.8 112.2L259.8 111.8L259.8 108.2L257.8 107.8L257.8 104.2L256.2 104.2L255.8 102.2L253.8 101.8L253.8 98.2L251.8 97.8L251.8 94.2L250.2 94.2L249.8 92.2L247.8 91.8L247.8 88.2L245.8 87.8L245.8 84.2L244.2 84.2L243.8 82.2L241.8 81.8L241.8 78.2L239.8 77.8L239.8 74.2L238.2 74.2L237.8 72.2L235.8 71.8L235.8 68.2L233.8 67.8L233.8 64.2L232.2 64.2L231.8 62.2L229.8 61.8L229.8 58.2L227.8 57.8L227.8 54.2L226.2 54.2L225.8 52.2Z"/>
<path fill="#00c6ff" fill-rule="evenodd" d="M72.2 52.2L72.2 548.8L726.8 548.8L726.8 234.8L721.2 234.2L714.8 232.2L688.8 219.2L673.8 214.8L652.8 210.8L629.2 208.2L598.8 200.8L589.2 199.8L575.8 200.2L561.8 203.8L546.2 210.8L531.8 220.8L513.2 236.8L499.8 243.8L485.8 246.8L463.2 248.8L448.8 251.8L435.8 257.2L420.8 268.2L400.2 272.8L367.8 284.8L356.8 285.8L352.8 282.2L352.8 278.2L355.2 266.8L354.2 255.2L350.8 244.8L344.2 232.8L343.8 229.8L307.2 191.8L307.2 189.2L305.2 187.8L305.2 185.2L301.2 181.8L301.2 179.2L299.2 177.8L299.2 175.2L295.2 171.8L295.2 169.2L293.2 167.8L293.2 165.2L289.2 161.8L289.2 159.2L287.2 157.8L287.2 155.2L283.2 151.8L283.2 149.2L281.2 147.8L281.2 145.2L277.2 141.8L277.2 139.2L275.2 137.8L275.2 135.2L271.2 131.8L271.2 129.2L269.2 127.8L269.2 125.2L265.2 121.8L265.2 119.2L263.2 117.8L263.2 115.2L259.2 111.8L259.2 109.2L257.2 107.8L257.2 105.2L253.2 101.8L253.2 99.2L251.2 97.8L251.2 95.2L247.2 91.8L247.2 89.2L245.2 87.8L245.2 85.2L241.2 81.8L241.2 79.2L239.2 77.8L239.2 75.2L235.2 71.8L235.2 69.2L233.2 67.8L233.2 65.2L229.2 61.8L229.2 59.2L227.2 57.8L227.2 55.2L225.2 53.8L225.2 52.2Z"/>
<path fill="#00d2ff" fill-rule="evenodd" d="M72.2 52.2L72.2 548.8L726.8 548.8L726.8 237.2L718.8 236.2L712.2 234.2L687.8 222.2L670.2 216.8L652.2 213.2L628.2 210.8L599.8 203.8L579.8 202.8L564.8 206.2L545.8 214.8L534.8 221.8L513.8 238.8L499.2 246.2L488.8 249.2L463.8 253.2L448.8 256.8L439.2 260.2L421.2 270.2L399.2 275.2L370.2 287.2L363.2 288.8L356.2 288.2L354.2 287.2L349.8 281.8L348.8 265.8L347.2 257.2L344.2 248.2L340.8 241.2L337.8 237.8L332.2 234.8L331.2 232.8L330.2 232.8L329.2 230.8L328.2 230.8L323.8 225.8L323.8 223.8L321.8 221.8L321.8 219.8L319.8 217.8L319.8 215.8L317.8 213.8L317.2 210.8L315.8 209.8L315.8 205.8L313.8 203.8L313.8 201.8L311.8 199.8L310.8 195.8L306.8 191.8L306.8 189.8L304.8 187.8L304.8 185.8L300.8 181.8L300.8 179.8L298.8 177.8L298.8 175.8L294.8 171.8L294.8 169.8L292.8 167.8L292.8 165.8L288.8 161.8L288.8 159.8L286.8 157.8L286.8 155.8L282.8 151.8L282.8 149.8L280.8 147.8L280.8 145.8L276.8 141.8L276.8 139.8L274.8 137.8L274.8 135.8L270.8 131.8L270.8 129.8L268.8 127.8L268.8 125.8L264.8 121.8L264.8 119.8L262.8 117.8L262.8 115.8L258.8 111.8L258.8 109.8L256.8 107.8L256.8 105.8L252.8 101.8L252.8 99.8L250.8 97.8L250.8 95.8L246.8 91.8L246.8 89.8L244.8 87.8L244.8 85.8L240.8 81.8L240.8 79.8L238.8 77.8L238.8 75.8L234.8 71.8L234.8 69.8L232.8 67.8L232.8 65.8L228.8 61.8L228.8 59.8L226.8 57.8L226.8 55.8L224.8 53.8L224.8 52.2Z"/>
<path fill="#00dfff" fill-rule="evenodd" d="M72.2 52.2L72.2 548.8L726.8 548.8L726.8 239.8L719.8 239.2L710.8 236.8L683.8 223.8L667.2 218.8L648.8 215.2L629.2 213.8L601.8 206.8L586.8 205.2L578.2 205.8L563.2 210.2L543.8 219.2L531.2 227.2L512.8 241.8L499.2 248.8L483.8 253.8L447.8 261.8L420.2 272.8L398.2 277.8L369.8 290.8L362.2 292.2L356.2 291.8L351.2 289.2L348.2 286.2L345.8 281.8L341.8 261.8L334.8 243.8L333.8 238.2L323.2 226.8L322.8 223.8L320.8 221.8L320.8 219.8L318.8 217.8L318.8 215.8L314.8 209.8L314.8 205.8L310.8 199.8L310.8 196.2L306.8 192.8L306.8 190.2L304.8 188.8L304.8 186.2L300.8 182.8L300.8 180.2L298.8 178.8L298.8 176.2L294.8 172.8L294.8 170.2L292.8 168.8L292.8 166.2L288.8 162.8L288.8 160.2L286.8 158.8L286.8 156.2L282.8 152.8L282.8 150.2L280.8 148.8L280.8 146.2L276.8 142.8L276.8 140.2L274.8 138.8L274.8 136.2L270.8 132.8L270.8 130.2L268.8 128.8L268.8 126.2L264.8 122.8L264.8 120.2L262.8 118.8L262.8 116.2L258.8 112.8L258.8 110.2L256.8 108.8L256.8 106.2L252.8 102.8L252.8 100.2L250.8 98.8L250.8 96.2L246.8 92.8L246.8 90.2L244.8 88.8L244.8 86.2L240.8 82.8L240.8 80.2L238.8 78.8L238.8 76.2L234.8 72.8L234.8 70.2L232.8 68.8L232.8 66.2L228.8 62.8L228.8 60.2L226.8 58.8L226.8 56.2L224.8 54.8L224.8 52.2Z"/>
<path fill="#00ecff" fill-rule="evenodd" d="M191.8 463.2L192.8 463.2L195.2 466.8L199.2 477.8L197.8 479.2L195.8 479.2L194.2 477.8L190.8 466.8L190.8 464.2ZM72.2 52.2L72.2 548.8L726.8 548.8L726.8 242.8L717.8 241.8L704.8 237.8L681.2 225.8L664.2 220.8L649.8 217.8L627.2 216.2L601.2 209.2L579.2 208.2L563.2 213.8L542.2 223.2L530.8 230.2L510.2 245.8L489.8 255.2L476.2 259.8L443.8 267.2L421.2 274.8L400.2 279.2L388.8 284.2L376.2 291.8L367.2 295.2L362.2 296.2L354.8 295.8L349.2 293.2L344.2 288.2L340.8 281.8L336.2 263.8L328.2 244.2L327.8 232.2L322.2 226.8L322.2 224.2L320.2 222.2L320.2 219.8L318.2 218.2L318.2 215.8L316.2 214.2L316.2 211.8L314.2 210.2L314.2 205.8L312.2 204.2L312.2 201.8L310.2 200.2L310.2 196.2L306.2 192.8L306.2 190.2L304.2 188.8L304.2 186.2L300.2 182.8L300.2 180.2L298.2 178.8L298.2 176.2L294.2 172.8L294.2 170.2L292.2 168.8L292.2 166.2L288.2 162.8L288.2 160.2L286.2 158.8L286.2 156.2L282.2 152.8L282.2 150.2L280.2 148.8L280.2 146.2L276.2 142.8L276.2 140.2L274.2 138.8L274.2 136.2L270.2 132.8L270.2 130.2L268.2 128.8L268.2 126.2L264.2 122.8L264.2 120.2L262.2 118.8L262.2 116.2L258.2 112.8L258.2 110.2L256.2 108.8L256.2 106.2L252.2 102.8L252.2 100.2L250.2 98.8L250.2 96.2L246.2 92.8L246.2 90.2L244.2 88.8L244.2 86.2L240.2 82.8L240.2 80.2L238.2 78.8L238.2 76.2L234.2 72.8L234.2 70.2L232.2 68.8L232.2 66.2L228.2 62.8L228.2 60.2L226.2 58.8L226.2 56.2L224.2 54.8L224.2 52.2Z"/>
<path fill="#00f9ff" fill-rule="evenodd" d="M191.2 460.2L194.8 460.2L198.2 462.2L202.8 468.8L203.8 476.2L203.2 478.2L199.8 482.2L194.2 482.8L192.2 481.8L188.8 478.2L186.8 473.8L186.8 464.8ZM72.2 52.2L72.2 548.8L726.8 548.8L726.8 245.8L719.2 245.2L702.2 240.2L679.2 227.8L653.8 220.8L645.8 219.8L629.8 219.8L604.2 212.2L584.2 210.2L578.8 210.8L539.2 227.8L527.2 235.2L510.2 248.2L482.8 261.8L460.2 268.2L402.2 280.8L392.2 284.8L380.2 293.2L369.2 298.8L361.8 301.2L352.8 301.2L346.2 298.2L339.8 291.8L336.2 285.2L330.2 263.2L325.8 254.2L320.8 246.8L317.2 243.2L312.2 242.2L303.8 233.8L303.8 231.2L299.8 227.8L299.8 225.2L295.8 221.8L295.8 219.2L291.8 215.8L291.8 213.2L287.8 209.8L287.8 207.2L283.8 203.8L283.8 201.2L279.8 197.8L279.8 195.2L275.8 191.8L275.8 189.2L271.8 185.8L271.8 183.2L267.8 179.8L267.8 177.2L263.8 173.8L263.8 171.2L259.8 167.8L259.8 165.2L255.8 161.8L255.8 159.2L251.8 155.8L251.8 153.2L247.8 149.8L247.8 147.2L243.8 143.8L243.8 141.2L239.8 137.8L239.8 135.2L235.8 131.8L235.8 129.2L231.8 125.8L231.8 123.2L227.8 119.8L227.8 117.2L223.8 113.8L223.8 111.2L219.8 107.8L219.8 105.2L215.8 101.8L215.8 99.2L211.8 95.8L211.8 93.2L207.8 89.8L207.8 87.2L203.8 83.8L203.8 81.2L199.8 77.8L199.8 75.2L195.8 71.8L195.8 69.2L191.8 65.8L191.8 63.2L187.8 59.8L187.8 57.2L183.8 53.8L183.8 52.2Z"/>
<path fill="#06fff9" fill-rule="evenodd" d="M192.8 453.2L200.8 453.8L205.8 456.8L209.2 460.8L212.2 468.2L212.2 476.2L210.2 481.8L204.2 488.2L197.8 491.2L190.8 490.8L185.8 487.8L181.2 482.2L178.8 474.8L179.2 467.2L182.2 459.8L186.8 455.8ZM72.2 52.2L72.2 548.8L726.8 548.8L726.8 249.2L719.8 248.8L699.2 242.8L691.2 238.8L684.2 233.2L678.8 230.2L666.2 226.2L658.2 225.2L652.8 222.8L639.2 222.2L636.2 223.2L631.2 223.2L611.8 217.8L602.8 214.2L579.8 212.8L565.8 220.2L543.8 228.2L535.8 232.2L524.8 239.2L517.8 245.8L515.2 246.8L509.2 251.8L480.8 267.2L453.8 274.2L441.8 275.2L435.2 277.2L423.8 278.2L417.8 280.2L409.8 280.8L406.8 282.2L401.8 282.8L395.8 284.8L381.8 296.2L364.8 306.2L356.8 309.2L349.2 309.2L342.2 305.8L335.2 297.8L329.8 285.8L327.8 273.2L324.2 261.8L314.2 251.8L312.2 248.2L311.8 244.2L302.2 234.2L302.2 231.8L298.2 228.2L298.2 225.8L294.2 222.2L294.2 219.8L290.2 216.2L290.2 213.8L286.2 210.2L286.2 207.8L282.2 204.2L282.2 201.8L278.2 198.2L278.2 195.8L274.2 192.2L274.2 189.8L270.2 186.2L270.2 183.8L266.2 180.2L266.2 177.8L262.2 174.2L262.2 171.8L258.2 168.2L258.2 165.8L254.2 162.2L254.2 159.8L250.2 156.2L250.2 153.8L246.2 150.2L246.2 147.8L242.2 144.2L242.2 141.8L238.2 138.2L238.2 135.8L234.2 132.2L234.2 129.8L230.2 126.2L230.2 123.8L226.2 120.2L226.2 117.8L222.2 114.2L222.2 111.8L218.2 108.2L218.2 105.8L214.2 102.2L214.2 99.8L210.2 96.2L210.2 93.8L206.2 90.2L206.2 87.8L202.2 84.2L202.2 81.8L198.2 78.2L198.2 75.8L194.2 72.2L194.2 69.8L190.2 66.2L190.2 63.8L186.2 60.2L186.2 57.8L182.2 54.2L182.2 52.2Z"/>
<path fill="#13ffec" fill-rule="evenodd" d="M726.8 252.2L721.8 252.2L719.8 253.8L716.8 250.8L711.8 250.2L710.8 248.8L701.8 248.2L700.8 246.8L698.8 246.8L696.2 244.8L691.8 244.2L681.8 234.8L679.8 234.8L677.8 232.8L675.8 232.8L672.8 230.8L667.8 230.8L665.2 228.8L655.8 228.8L654.8 227.2L647.8 224.8L641.8 224.8L638.2 226.8L627.8 226.8L625.8 224.8L621.8 224.8L618.8 222.8L613.8 222.8L612.2 221.2L606.2 219.2L603.2 217.2L592.2 217.2L589.8 218.8L584.2 216.2L580.2 216.2L576.8 218.8L570.2 221.2L566.2 224.8L563.2 224.8L560.2 226.8L557.2 226.8L554.2 228.8L551.8 228.8L548.2 230.8L544.2 231.2L532.2 237.2L528.2 240.8L524.8 242.2L518.2 248.8L516.2 248.8L510.8 254.2L508.2 254.8L506.2 256.8L504.2 256.8L500.8 260.2L498.2 260.8L496.2 262.8L494.2 262.8L490.8 266.2L488.2 266.8L481.8 272.8L476.2 272.8L473.8 274.8L468.2 274.8L465.8 276.8L460.2 276.8L457.8 278.8L440.2 278.8L437.8 280.8L422.2 280.8L419.8 282.8L410.2 282.8L407.8 284.8L402.2 284.8L400.2 286.8L396.8 286.8L381.8 300.8L379.8 300.8L375.8 304.8L373.2 305.2L355.8 322.8L353.8 322.8L347.8 328.8L345.8 328.8L343.8 330.8L341.8 330.8L339.8 332.2L335.2 329.8L333.8 316.2L322.2 293.8L316.2 279.2L310.2 272.8L305.8 270.2L296.2 268.2L130.2 268.2L128.2 266.2L125.8 266.2L122.8 262.8L119.8 262.8L116.8 259.2L113.8 258.8L110.8 255.2L107.8 254.8L102.8 249.2L99.8 248.8L96.8 245.2L93.8 244.8L88.8 239.2L85.8 238.8L82.8 235.2L79.8 234.8L76.8 231.2L72.2 230.8L72.2 337.2L74.2 337.2L91.8 355.8L91.8 357.8L99.8 365.2L99.8 367.8L107.8 375.2L107.8 377.8L115.8 385.2L115.8 387.8L123.8 395.2L123.8 397.8L131.8 405.2L131.8 407.8L139.8 415.2L139.8 417.8L147.8 425.2L147.8 427.8L158.2 438.2L173.2 446.2L177.8 447.8L183.2 447.8L188.2 443.2L191.8 437.2L196.8 433.2L203.8 431.8L204.2 435.8L206.8 437.8L212.2 436.8L214.8 433.2L213.8 430.2L209.2 427.8L212.8 423.8L213.8 421.2L213.8 410.2L210.8 406.2L210.8 403.8L209.2 402.2L208.8 399.2L207.2 398.2L207.2 395.8L205.2 394.2L205.2 391.8L203.2 390.2L203.2 385.8L201.2 384.2L201.2 379.8L199.2 378.2L199.2 373.8L197.2 372.2L197.2 367.8L195.2 366.2L195.2 359.8L193.2 358.2L193.2 353.8L191.2 352.2L191.2 345.8L189.2 344.2L189.2 337.8L187.2 336.2L187.8 331.8L192.8 337.8L195.8 337.8L196.2 339.2L197.8 339.8L198.2 341.2L199.8 341.8L204.8 347.8L207.8 347.8L208.2 349.2L209.8 349.8L210.2 351.2L216.2 356.2L216.2 359.2L218.2 360.2L218.2 363.2L222.2 366.2L222.2 369.2L226.2 372.2L226.2 375.2L228.2 375.8L228.8 378.2L230.8 379.8L230.8 382.2L232.8 383.8L232.8 386.2L234.8 387.8L234.8 390.2L236.8 391.8L236.8 394.2L248.2 405.2L256.2 405.2L260.8 410.2L260.8 413.8L258.8 415.8L258.8 417.8L252.2 421.2L249.2 424.2L246.8 430.2L241.2 433.2L238.2 433.8L224.8 447.2L223.8 450.8L223.8 459.2L225.2 462.2L225.2 469.8L226.8 471.8L226.8 476.2L224.8 478.8L224.8 483.8L217.2 491.8L216.2 494.8L214.2 495.2L208.8 499.2L207.2 503.2L206.8 525.8L202.2 530.8L199.2 530.8L196.2 532.8L189.8 532.8L181.2 523.8L180.8 521.2L179.2 520.2L178.8 513.8L177.2 512.2L176.2 499.2L172.2 492.2L168.8 488.2L168.2 485.2L164.2 477.8L159.2 472.2L153.8 471.8L140.8 477.2L135.2 477.2L133.2 476.2L124.8 475.2L98.2 475.2L96.2 474.2L95.2 472.2L90.2 472.2L89.2 470.2L86.2 470.2L85.2 468.2L82.2 468.2L81.2 466.2L78.2 466.2L77.2 464.2L72.2 464.2L72.2 548.8L726.8 548.8Z"/>
<path fill="#20ffdf" fill-rule="evenodd" d="M726.8 253.2L722.2 253.2L720.8 254.8L719.2 254.8L715.8 252.2L709.2 250.2L701.8 249.8L690.2 245.2L682.2 239.2L675.2 235.8L664.8 232.8L656.2 231.8L647.2 229.2L626.8 229.2L600.8 222.8L580.8 223.2L546.2 235.2L532.8 241.8L510.8 257.2L481.2 275.2L457.8 281.2L442.8 281.8L436.8 283.2L424.2 283.8L419.2 285.2L412.2 285.8L398.8 289.8L373.8 308.2L356.8 324.8L347.8 331.2L340.2 334.2L333.8 331.8L323.8 318.2L314.2 309.2L308.2 305.2L300.8 302.2L294.8 301.2L238.2 301.2L237.8 300.2L232.2 300.2L231.2 298.2L226.2 298.2L224.8 296.2L218.2 296.2L216.2 294.2L210.2 294.2L208.2 292.2L202.2 292.2L199.8 290.2L193.8 290.2L193.2 288.8L184.2 288.8L183.2 286.8L176.2 286.2L173.8 284.2L169.8 284.2L169.2 282.8L161.8 282.2L161.2 280.8L156.2 280.8L155.2 278.8L148.2 278.8L146.8 276.8L142.8 276.8L142.8 281.2L143.8 281.2L144.8 283.2L145.8 283.2L146.8 285.2L147.8 285.2L148.8 287.2L149.8 287.2L150.8 289.2L154.2 291.8L154.8 295.2L155.8 295.2L156.8 297.2L157.8 297.2L158.8 299.2L159.8 299.2L160.8 301.2L161.8 301.2L162.8 303.2L166.2 305.8L166.8 309.2L167.8 309.2L168.8 311.2L169.8 311.2L170.8 313.2L171.8 313.2L172.8 315.2L176.2 317.8L176.8 321.2L177.8 321.2L178.8 323.2L179.8 323.2L180.8 325.2L181.8 325.2L182.8 327.2L183.8 327.2L184.8 329.2L185.8 329.2L186.8 331.2L187.8 331.2L193.2 337.2L195.8 337.2L205.2 347.2L207.8 347.2L216.8 356.2L216.8 358.8L218.8 360.2L218.8 362.8L222.8 366.2L222.8 368.8L226.8 372.2L226.8 374.8L229.8 375.2L232.8 379.2L235.8 379.2L238.8 383.2L241.8 383.2L242.8 385.2L245.8 385.2L246.8 387.2L250.8 390.2L250.8 391.2L253.8 391.2L254.8 393.2L256.8 394.2L258.8 397.8L259.2 403.2L262.8 410.2L262.8 413.8L260.2 419.8L254.8 425.2L249.2 432.8L238.8 442.8L233.8 450.2L231.2 458.2L230.2 475.2L227.8 484.2L213.2 505.8L208.8 527.2L203.8 533.2L196.8 536.8L191.8 536.8L188.2 535.2L180.2 527.2L176.2 520.8L170.2 504.8L165.2 494.8L160.2 489.8L152.2 487.2L116.2 487.8L112.8 484.8L109.8 484.8L104.2 479.2L101.8 479.2L100.2 477.2L97.8 477.2L93.8 473.2L89.8 473.2L87.8 471.2L85.8 471.2L83.8 469.2L81.8 469.2L75.8 465.2L72.2 465.2L72.2 548.8L726.8 548.8Z"/>
<path fill="#2dffd2" fill-rule="evenodd" d="M726.8 253.8L719.2 255.2L709.2 251.8L700.8 250.8L690.2 247.2L675.2 239.2L654.8 234.2L644.2 232.8L629.2 232.8L602.2 227.8L585.8 227.8L579.2 228.8L549.8 238.2L534.2 245.2L482.2 277.8L462.2 283.2L423.2 286.8L411.8 288.8L400.2 292.2L393.2 296.2L376.2 309.2L359.8 325.2L352.8 330.8L344.8 335.2L341.2 336.2L336.8 336.2L332.2 334.8L313.8 322.2L303.2 317.8L295.2 316.2L274.2 316.2L273.8 314.8L270.2 314.2L268.2 312.2L265.8 312.2L265.2 310.8L262.2 310.8L260.8 308.8L256.2 308.8L254.8 306.8L250.2 306.8L248.2 304.8L245.8 304.8L244.2 302.8L237.8 302.8L236.2 300.8L231.8 300.8L230.2 298.8L225.8 298.8L224.2 296.8L217.8 296.8L215.8 294.8L209.8 294.8L207.8 292.8L201.8 292.8L199.8 290.8L193.8 290.8L191.8 288.8L183.8 288.8L181.8 286.8L175.8 286.8L174.2 284.8L169.8 284.8L168.2 282.8L161.8 282.8L160.2 280.8L155.8 280.8L154.2 278.8L147.8 278.8L146.2 276.8L143.8 276.8L142.8 277.8L142.8 280.2L154.8 291.8L154.8 294.2L166.8 305.8L166.8 308.2L176.8 317.8L176.8 320.2L193.2 336.8L196.2 337.2L205.2 346.8L208.2 347.2L217.2 356.2L217.2 358.2L219.2 360.2L219.2 362.2L223.2 366.2L223.2 368.2L227.2 372.2L227.2 374.2L230.2 375.2L233.2 378.8L236.2 379.2L239.2 382.8L242.2 383.2L244.2 385.2L246.2 385.2L251.2 390.8L254.2 391.2L262.2 400.2L262.2 402.8L264.8 408.2L264.8 416.2L260.2 425.2L242.2 448.8L237.8 458.2L234.8 473.2L231.2 484.8L217.8 508.2L213.2 523.8L210.2 530.8L206.8 535.8L200.2 542.2L196.2 544.2L193.8 544.2L188.2 540.8L179.8 531.8L163.8 506.2L156.2 498.2L145.8 496.2L134.2 496.2L123.2 499.8L120.8 499.8L114.8 502.8L113.2 502.8L111.8 501.2L100.2 501.2L99.8 500.2L98.2 500.2L95.2 496.2L92.2 496.2L91.2 494.2L88.2 494.2L85.2 490.2L82.2 490.2L79.2 486.2L76.2 486.2L75.2 484.2L72.2 484.2L72.2 548.8L726.8 548.8Z"/>
<path fill="#39ffc6" fill-rule="evenodd" d="M72.2 484.8L72.2 548.8L184.8 548.8L184.2 544.8L178.2 534.8L164.2 515.8L154.8 506.8L148.2 503.8L140.8 502.2L130.8 502.2L114.8 505.2L105.8 504.8L103.2 502.8L100.2 502.8L94.8 496.8L92.2 496.8L90.8 494.8L88.2 494.8L84.8 490.8L82.2 490.8L78.8 486.8L76.2 486.8L74.8 484.8ZM726.8 254.8L718.8 255.8L714.8 254.2L698.8 251.8L690.2 249.2L671.8 241.2L649.2 236.8L626.8 235.8L603.2 232.2L587.8 232.2L575.8 234.2L558.8 239.2L542.8 245.2L530.8 251.2L491.8 275.8L481.2 281.2L462.2 286.2L424.2 289.2L402.2 294.2L395.2 297.8L380.2 308.8L358.8 329.2L352.2 334.2L346.8 337.2L339.8 339.2L328.2 337.8L303.8 328.2L288.2 326.2L284.8 322.8L282.2 322.8L276.8 317.2L274.2 317.2L272.2 315.2L270.2 315.2L264.2 311.2L261.8 311.2L260.2 309.2L255.8 309.2L254.2 307.2L249.8 307.2L248.2 305.2L245.8 305.2L244.2 303.2L237.8 303.2L235.8 301.2L231.8 301.2L229.8 299.2L225.8 299.2L223.8 297.2L217.8 297.2L215.8 295.2L209.8 295.2L207.8 293.2L201.8 293.2L199.8 291.2L193.8 291.2L191.8 289.2L183.8 289.2L181.8 287.2L175.8 287.2L174.2 285.2L169.8 285.2L168.2 283.2L161.8 283.2L160.2 281.2L155.8 281.2L154.2 279.2L147.8 279.2L146.2 277.2L143.8 277.2L143.2 280.2L155.2 291.8L155.2 294.2L167.2 305.8L167.2 308.2L177.2 317.8L177.2 320.2L193.8 336.8L196.2 336.8L205.8 346.8L208.2 346.8L217.2 355.8L217.2 357.8L219.2 359.8L219.2 361.8L223.2 365.8L223.2 367.8L227.2 371.8L227.2 373.8L228.2 374.8L230.2 374.8L233.8 378.8L236.2 378.8L239.8 382.8L242.2 382.8L243.8 384.8L246.2 384.8L252.2 390.8L254.2 390.8L263.8 400.2L267.8 407.8L268.2 413.8L266.2 421.8L262.2 429.2L249.2 448.2L243.8 458.8L234.8 486.2L221.8 510.2L215.2 528.2L208.2 541.2L206.2 548.8L726.8 548.8Z"/>
<path fill="#46ffb9" fill-rule="evenodd" d="M72.2 484.8L72.2 548.8L179.8 548.8L179.2 544.2L174.2 534.8L163.8 521.8L153.2 512.8L147.2 509.8L136.8 507.2L108.2 507.8L102.2 502.8L99.8 502.8L94.8 497.2L91.8 496.8L89.8 494.8L87.8 494.8L84.8 491.2L81.8 490.8L78.8 487.2L75.8 486.8L74.8 485.2ZM726.8 255.2L717.2 256.2L701.2 253.8L690.2 251.2L671.2 244.2L645.8 239.8L628.8 239.2L598.8 236.2L587.2 236.8L575.2 238.8L551.8 245.8L536.2 252.2L512.2 265.8L489.2 280.8L478.2 285.8L459.2 289.8L435.8 290.8L418.8 292.8L409.2 294.8L399.2 298.2L392.2 302.2L378.8 312.8L354.8 335.8L348.2 339.8L338.2 342.8L321.8 341.8L297.2 335.8L294.2 334.2L292.8 331.8L284.2 323.8L281.8 323.8L276.2 317.8L273.8 317.8L272.2 315.8L269.8 315.8L267.8 313.8L265.2 313.8L263.8 311.8L261.2 311.8L259.8 309.8L255.2 309.8L253.8 307.8L249.2 307.8L247.8 305.8L245.2 305.8L243.8 303.8L237.2 303.8L235.8 301.8L231.2 301.8L229.8 299.8L225.2 299.8L223.8 297.8L217.2 297.8L215.8 295.8L209.2 295.8L207.8 293.8L201.2 293.8L199.8 291.8L193.2 291.8L191.8 289.8L183.8 289.8L181.8 287.8L176.2 287.8L174.2 285.8L170.2 285.8L168.2 283.8L162.2 283.8L160.2 281.8L156.2 281.8L154.2 279.8L148.2 279.8L146.2 277.8L143.8 277.8L143.8 280.2L155.2 291.2L155.8 294.2L167.2 305.2L167.8 308.2L177.2 317.2L177.8 320.2L193.8 336.2L196.2 336.2L205.8 346.2L208.2 346.2L217.8 355.8L217.8 357.8L219.8 359.2L219.8 361.8L223.8 365.2L223.8 367.8L227.8 371.2L227.8 373.8L230.2 374.2L233.8 378.2L236.2 378.2L239.8 382.2L242.2 382.2L243.8 384.2L246.2 384.2L252.2 390.2L254.8 390.2L260.2 396.2L267.2 399.8L270.8 405.2L271.8 413.8L268.8 425.2L248.2 461.8L237.8 489.2L225.8 511.8L212.8 542.8L212.2 548.8L726.8 548.8Z"/>
<path fill="#53ffac" fill-rule="evenodd" d="M72.2 485.2L72.2 548.8L175.8 548.8L174.8 542.2L170.8 535.2L161.2 524.8L152.8 518.2L147.2 515.2L137.8 512.2L110.2 510.2L102.2 503.2L99.8 503.2L94.2 497.2L91.8 497.2L90.2 495.2L87.8 495.2L84.2 491.2L81.8 491.2L78.2 487.2L75.8 487.2L74.2 485.2ZM726.8 256.2L713.8 256.8L701.2 255.2L688.2 252.8L667.2 246.2L648.2 243.2L622.8 242.2L609.2 240.8L589.8 240.8L571.8 243.8L550.2 250.2L534.8 256.8L510.2 270.2L490.2 283.8L476.8 289.8L460.2 292.8L437.8 293.2L422.8 294.8L407.8 297.8L399.2 300.8L390.8 305.8L380.8 313.8L360.2 334.8L354.8 339.2L343.2 345.2L329.2 347.8L303.8 347.2L287.2 343.2L276.2 342.2L275.2 340.8L271.8 340.2L267.2 335.2L263.8 334.8L262.2 332.8L259.8 332.8L258.2 330.8L255.8 330.8L252.2 326.8L249.8 326.8L248.2 324.8L245.8 324.8L244.2 322.8L241.8 322.8L240.2 320.8L237.8 320.8L234.2 316.8L231.8 316.8L230.2 314.8L227.8 314.8L226.2 312.8L223.8 312.8L222.2 310.8L219.8 310.8L216.2 306.8L213.8 306.8L212.2 304.8L209.8 304.8L208.2 302.8L205.8 302.8L204.2 300.8L201.8 300.8L198.2 296.8L195.8 296.8L194.2 294.8L191.8 294.8L190.2 292.8L187.8 292.8L186.2 290.8L183.8 290.8L180.2 287.8L175.2 287.8L173.8 285.8L169.2 285.8L167.8 283.8L161.2 283.8L159.8 281.8L155.2 281.8L153.8 279.8L147.2 279.8L145.8 277.8L144.2 277.8L143.8 279.8L155.8 291.2L155.8 293.8L167.8 305.2L167.8 307.8L177.8 317.2L177.8 319.8L194.2 336.2L196.8 336.2L206.2 346.2L208.8 346.2L217.8 354.8L218.2 357.8L220.2 358.8L220.2 361.8L224.2 364.8L224.2 367.8L228.2 370.8L228.2 373.8L231.2 373.8L234.2 377.8L237.2 377.8L240.2 381.8L243.2 381.8L244.2 383.8L247.2 383.8L248.2 385.8L252.2 388.8L252.2 389.8L255.8 389.8L256.2 390.8L264.8 390.8L270.8 395.2L274.8 402.8L275.8 413.2L272.2 427.2L251.8 466.2L242.8 488.2L222.8 527.8L217.2 541.8L216.2 548.8L726.8 548.8Z"/>
<path fill="#60ff9f" fill-rule="evenodd" d="M72.2 485.8L72.2 548.8L172.8 548.8L172.2 543.8L167.8 536.2L160.2 528.8L152.8 523.2L146.2 519.8L135.2 516.2L112.2 513.2L102.2 503.8L99.2 503.2L94.2 497.8L91.8 497.8L90.2 495.8L87.8 495.8L84.2 491.8L81.8 491.8L78.2 487.8L75.8 487.8L74.2 485.8ZM726.8 256.8L711.8 257.8L687.8 254.8L662.2 248.2L645.8 246.2L613.2 244.8L590.2 244.8L571.8 247.8L551.2 253.8L531.8 261.8L512.2 272.2L489.8 287.8L477.2 293.2L463.8 295.8L440.2 295.8L427.2 296.8L411.8 299.2L401.2 302.2L394.2 305.8L386.8 311.2L358.2 340.2L349.8 346.2L333.2 352.2L296.2 358.2L284.8 358.2L280.8 356.8L276.2 352.2L275.8 344.2L274.8 344.2L273.8 342.2L270.8 342.2L269.8 340.2L267.8 339.8L267.8 338.2L265.8 337.8L265.8 336.2L262.2 336.2L261.8 334.2L258.2 334.2L257.8 332.2L254.2 332.2L253.8 330.2L251.8 329.8L251.8 328.2L248.2 328.2L247.8 326.2L244.2 326.2L243.8 324.2L240.2 324.2L239.8 322.2L236.2 322.2L235.8 320.2L233.8 319.8L233.8 318.2L230.2 318.2L229.8 316.2L226.2 316.2L225.8 314.2L222.2 314.2L221.8 312.2L218.2 312.2L217.8 310.2L215.8 309.8L215.8 308.2L212.2 308.2L211.8 306.2L208.2 306.2L207.8 304.2L204.2 304.2L203.8 302.2L200.2 302.2L199.8 300.2L197.8 299.8L197.8 298.2L194.2 298.2L193.8 296.2L190.2 296.2L189.8 294.2L186.2 294.2L185.8 292.2L182.2 292.2L181.8 290.2L179.8 289.8L179.8 288.2L174.2 288.2L173.8 286.2L168.2 286.2L167.8 284.2L160.2 284.2L159.8 282.2L154.2 282.2L153.8 280.2L146.2 280.2L145.8 278.2L144.2 278.2L144.2 279.8L145.8 279.8L146.2 281.8L147.8 281.8L148.2 283.8L149.8 283.8L150.2 285.8L151.8 285.8L152.2 287.8L153.8 287.8L154.2 289.8L156.2 290.2L156.2 293.8L157.8 293.8L158.2 295.8L159.8 295.8L160.2 297.8L161.8 297.8L162.2 299.8L163.8 299.8L164.2 301.8L165.8 301.8L166.2 303.8L168.2 304.2L168.2 307.8L169.8 307.8L170.2 309.8L171.8 309.8L172.2 311.8L173.8 311.8L174.2 313.8L175.8 313.8L176.2 315.8L178.2 316.2L178.2 319.8L179.8 319.8L180.2 321.8L181.8 321.8L182.2 323.8L183.8 323.8L184.2 325.8L185.8 325.8L186.2 327.8L187.8 327.8L188.2 329.8L189.8 329.8L190.2 331.8L191.8 331.8L192.2 333.8L194.2 334.2L194.2 335.8L197.8 335.8L198.2 337.8L199.8 337.8L200.2 339.8L201.8 339.8L202.2 341.8L203.8 341.8L204.2 343.8L206.2 344.2L206.2 345.8L209.8 345.8L210.2 347.8L211.8 347.8L212.2 349.8L214.2 350.2L214.2 351.8L217.2 351.8L218.2 353.8L225.2 353.8L226.2 355.8L228.8 355.8L230.2 357.8L234.2 357.8L236.2 360.2L240.8 360.2L242.2 362.2L244.8 362.2L246.2 364.2L248.8 364.2L249.8 366.2L252.2 366.2L253.8 368.2L256.2 368.2L261.8 374.2L264.2 374.2L273.8 383.8L276.2 387.2L278.8 393.8L280.2 400.8L280.2 413.2L276.2 428.8L254.8 471.2L245.8 491.8L223.2 535.2L220.2 544.2L220.2 548.8L726.8 548.8Z"/>
<path fill="#6cff93" fill-rule="evenodd" d="M72.2 485.8L72.2 548.8L170.2 548.8L169.8 544.2L166.8 539.2L161.8 534.2L154.2 528.8L138.2 521.2L112.8 516.8L110.8 515.2L108.2 510.2L101.8 503.8L99.2 503.8L93.8 497.8L91.2 497.8L89.8 495.8L87.2 495.8L83.8 491.8L81.2 491.8L77.8 487.8L75.2 487.8L73.8 485.8ZM726.8 257.2L717.8 258.8L695.8 257.8L684.2 256.2L659.2 250.8L641.2 249.2L597.8 248.2L581.8 249.8L556.8 255.8L533.8 264.2L514.2 274.2L490.8 291.2L477.2 297.2L461.2 299.2L427.8 299.2L409.2 302.2L396.2 306.8L386.2 314.2L374.8 325.8L367.2 335.2L354.8 347.2L342.2 354.2L308.8 365.8L297.8 371.8L291.2 378.2L288.2 385.8L285.2 413.2L280.8 429.8L244.2 504.2L225.8 537.8L223.2 545.8L223.2 548.8L726.8 548.8Z"/>
<path fill="#79ff86" fill-rule="evenodd" d="M72.2 516.2L72.2 548.8L168.2 548.8L166.8 543.2L163.2 539.2L152.2 531.8L140.8 526.2L128.2 522.8L111.8 521.2L102.2 516.2ZM726.8 258.2L721.8 258.2L716.8 259.8L690.2 259.2L650.8 252.8L593.2 252.2L583.8 253.2L554.2 260.2L528.8 269.8L510.8 279.8L489.8 296.2L479.8 300.8L472.8 302.2L432.8 301.2L411.2 304.2L397.2 308.2L389.8 313.8L379.8 323.2L366.2 340.8L353.8 352.8L348.2 356.2L324.8 366.8L315.8 371.8L305.2 379.8L300.2 385.8L294.8 397.2L288.2 422.2L281.2 440.8L247.8 506.8L229.2 537.8L226.8 543.2L226.2 548.8L726.8 548.8Z"/>
<path fill="#86ff79" fill-rule="evenodd" d="M72.2 526.2L72.2 548.8L166.8 548.8L164.2 543.2L157.2 538.2L141.8 530.8L128.2 526.2ZM726.8 258.8L722.2 258.8L714.2 261.2L688.2 261.2L651.8 255.8L597.8 255.8L584.8 256.8L554.8 263.8L526.8 273.8L513.8 280.8L492.8 299.2L480.8 305.2L475.8 306.2L462.2 306.2L437.2 303.2L404.2 307.8L397.2 310.2L389.8 316.2L379.8 326.2L366.2 345.8L356.8 355.8L349.8 360.8L333.8 368.8L324.2 374.8L316.8 380.8L306.8 391.8L297.8 408.2L291.8 427.8L284.8 444.8L270.8 472.8L261.2 488.2L248.2 514.8L241.8 525.8L231.2 540.2L228.8 545.2L228.2 548.8L726.8 548.8Z"/>
<path fill="#93ff6c" fill-rule="evenodd" d="M165.2 547.8L163.2 544.8L153.8 539.8L127.2 529.2L122.2 529.2L105.8 534.2L72.2 534.2L72.2 548.8L165.2 548.8ZM726.8 259.2L723.2 259.2L712.8 262.8L695.8 262.2L692.8 263.2L678.8 262.8L674.2 261.2L660.8 260.2L654.8 258.8L585.2 260.2L553.2 267.8L525.2 277.2L515.2 282.8L507.2 289.8L493.2 304.8L484.2 309.8L470.8 311.2L441.2 305.8L435.2 305.8L399.2 310.8L387.2 321.2L380.2 328.8L364.8 353.8L353.8 364.2L338.2 372.2L329.2 378.8L313.2 395.8L306.8 404.2L300.8 415.2L292.2 440.2L273.8 477.8L263.2 492.8L258.2 505.8L248.2 523.2L242.2 532.2L231.8 544.2L230.2 548.8L726.8 548.8Z"/>
<path fill="#9fff60" fill-rule="evenodd" d="M103.8 547.8L103.8 548.8L163.8 548.8L162.2 545.8L159.8 545.8L156.8 543.8L152.8 543.2L144.2 539.2L140.2 538.8L134.2 535.2L128.2 533.2L126.8 531.8L123.2 531.8ZM726.8 260.2L721.8 260.2L720.8 261.8L718.2 261.8L716.2 263.8L711.8 263.8L710.2 264.8L708.2 263.8L695.8 263.8L692.2 265.8L676.2 265.2L674.8 263.8L659.2 263.2L656.8 261.8L643.2 261.2L637.8 263.2L586.2 263.2L581.8 265.2L576.2 265.2L571.8 267.2L567.8 267.2L563.8 269.2L559.8 269.2L557.8 270.8L552.2 271.2L548.2 273.2L544.2 273.2L541.2 275.2L538.2 275.2L535.2 277.2L531.2 277.8L529.8 279.2L525.8 279.8L517.8 283.8L507.8 293.2L507.2 295.2L492.8 313.2L487.8 315.8L479.2 316.8L468.8 316.2L455.8 311.2L449.2 311.2L445.2 309.2L442.2 309.2L440.2 307.8L435.8 307.8L433.8 309.2L419.8 309.8L417.8 311.2L400.2 311.8L381.8 329.8L381.2 332.2L371.2 349.8L370.2 353.8L359.8 367.2L356.8 369.8L352.2 370.8L343.8 374.8L336.2 379.8L331.2 384.8L326.8 393.2L308.2 411.8L303.2 421.2L302.8 428.2L300.8 434.2L282.8 469.8L278.2 481.2L265.8 495.2L264.2 504.8L256.8 516.2L254.8 521.2L250.8 526.2L248.2 531.8L241.8 538.8L239.8 539.2L235.2 543.8L231.8 548.8L726.8 548.8Z"/>
<path fill="#acff53" fill-rule="evenodd" d="M108.8 547.2L108.8 548.8L149.8 548.8L149.2 546.2L144.2 542.2L137.8 540.8L134.2 537.8L126.2 534.8L122.2 535.8ZM726.8 263.2L721.8 263.8L711.2 267.2L698.8 266.2L694.2 267.8L675.8 267.8L672.2 266.2L657.2 265.8L650.8 264.2L636.2 266.2L587.8 266.8L583.8 268.2L579.2 268.2L561.2 272.2L550.2 275.8L545.2 276.2L528.2 282.2L521.2 285.8L511.2 294.8L497.8 314.2L494.8 317.2L489.2 319.8L467.2 319.2L455.2 314.2L448.8 313.8L439.2 310.8L434.2 311.8L422.2 311.8L416.2 313.8L408.8 313.8L400.2 315.8L396.2 318.8L384.8 330.8L374.8 349.8L373.2 354.8L365.2 365.2L361.8 371.8L360.2 373.2L352.8 374.8L339.2 382.2L333.2 389.2L330.8 395.2L327.2 398.8L324.2 400.2L311.2 413.8L306.8 423.2L305.8 432.2L287.2 470.2L282.2 482.2L270.2 496.8L267.2 507.2L261.2 515.8L251.8 533.2L244.2 543.8L243.2 548.8L726.8 548.8Z"/>
<path fill="#b9ff46" fill-rule="evenodd" d="M109.2 547.8L109.2 548.8L146.2 548.8L145.8 546.2L142.8 543.2L137.8 541.8L134.2 539.2L127.8 536.8L124.2 536.8L121.2 538.2ZM726.8 266.8L711.8 269.2L696.2 269.2L690.2 270.2L647.2 267.2L636.2 268.8L595.8 269.2L578.8 271.2L545.2 278.8L525.8 286.8L519.8 290.8L513.8 296.8L503.2 311.2L496.8 318.2L490.8 321.2L483.8 322.2L468.2 321.2L454.2 316.2L439.2 313.2L423.8 313.8L406.2 316.8L402.2 318.2L393.8 324.8L388.2 330.8L381.2 342.2L374.8 356.2L364.2 371.2L360.8 374.8L352.8 377.8L341.8 384.2L335.8 390.2L332.8 395.2L319.8 407.2L313.8 414.8L309.2 425.2L306.8 436.8L300.2 452.2L285.2 482.8L274.8 496.8L268.8 509.8L253.2 535.8L249.2 545.2L249.2 548.8L726.8 548.8Z"/>
<path fill="#c6ff39" fill-rule="evenodd" d="M109.8 547.8L109.8 548.8L143.8 548.8L143.8 546.2L141.8 544.2L130.2 538.8L124.8 538.2L111.8 545.8ZM726.8 269.8L710.2 271.8L677.2 272.2L663.8 270.8L644.2 270.2L637.2 271.2L595.8 272.2L577.2 274.2L548.2 280.2L528.8 288.2L522.2 292.8L515.2 299.8L504.2 314.2L499.2 319.2L490.2 323.8L471.2 323.8L455.8 318.8L441.2 315.8L420.2 316.2L408.2 318.8L401.8 321.8L398.2 324.2L389.2 333.8L384.2 341.8L377.2 356.2L366.2 372.2L361.2 376.8L349.2 382.8L341.2 388.2L320.2 409.8L316.2 415.2L312.8 422.8L309.2 437.8L302.2 455.8L288.8 482.8L276.8 500.2L259.2 530.2L254.2 541.8L253.2 548.8L726.8 548.8Z"/>
<path fill="#d2ff2d" fill-rule="evenodd" d="M110.8 547.8L110.8 548.8L142.2 548.8L142.2 545.8L140.2 545.8L138.2 543.8L136.2 543.8L134.2 541.8L131.2 541.2L130.2 539.8L123.8 539.8L121.8 541.8L119.8 541.8L118.2 543.8L116.2 543.8L114.8 545.8L113.2 545.8ZM726.8 272.8L693.2 274.8L649.8 272.8L595.2 275.2L568.2 278.2L549.2 282.2L539.2 285.8L529.8 290.8L524.2 294.8L517.8 301.2L508.2 313.8L500.8 321.2L491.8 325.8L486.8 326.8L473.8 326.2L453.8 320.2L440.8 317.8L423.2 317.8L414.2 319.2L404.8 322.8L399.8 326.2L391.2 335.2L384.8 345.8L379.2 357.2L368.8 372.8L362.2 378.8L347.8 386.8L341.8 391.2L323.2 409.2L319.8 413.8L316.2 420.2L310.2 444.2L304.8 458.2L291.2 484.8L262.8 529.2L257.8 541.2L256.8 548.8L726.8 548.8Z"/>
<path fill="#dfff20" fill-rule="evenodd" d="M726.8 275.8L707.2 276.8L641.8 275.8L593.8 278.2L564.2 281.2L548.2 284.8L533.8 291.2L527.2 295.8L519.8 303.2L505.2 321.2L500.8 324.8L492.8 328.2L487.8 329.2L475.2 328.8L466.2 326.8L453.8 322.2L440.8 319.8L422.2 319.8L414.2 321.2L406.8 324.2L399.2 329.8L392.8 337.2L388.2 344.2L380.2 360.2L370.2 374.8L364.2 380.2L343.8 392.8L330.8 404.2L321.2 415.2L317.8 422.8L312.8 446.8L308.2 458.8L291.8 490.2L266.2 528.2L260.8 541.2L259.8 548.8L726.8 548.8Z"/>
<path fill="#ecff13" fill-rule="evenodd" d="M726.8 278.2L706.8 279.2L643.8 278.2L562.8 283.8L547.2 287.2L538.2 291.2L531.2 295.8L523.8 302.8L512.2 318.2L505.2 325.2L494.8 330.8L490.2 331.8L475.2 331.2L450.2 323.2L433.2 321.2L420.2 321.8L413.8 323.2L408.2 325.8L403.2 329.2L394.8 338.2L381.2 363.2L372.8 375.8L365.8 382.2L350.2 391.2L339.2 399.2L326.8 410.8L322.8 416.2L319.2 425.8L315.8 448.2L310.2 462.8L294.8 491.8L268.2 529.8L263.8 540.2L262.8 548.8L726.8 548.8Z"/>
<path fill="#f9ff06" fill-rule="evenodd" d="M726.8 281.2L685.8 281.8L645.2 280.8L560.8 286.2L546.2 289.8L535.2 295.8L526.8 303.2L512.2 323.2L506.2 328.8L497.8 333.2L491.2 334.8L477.8 334.2L469.2 332.2L452.2 325.8L435.8 323.2L418.2 323.8L408.8 327.8L405.2 330.2L396.8 339.2L391.8 347.2L383.2 364.8L375.8 376.2L368.2 383.8L341.2 400.2L333.8 406.2L325.8 414.8L322.8 420.8L321.2 426.8L319.2 448.2L313.8 463.8L297.2 494.2L276.2 521.8L270.8 530.2L265.8 542.2L265.2 548.8L726.8 548.8Z"/>
<path fill="#fff900" fill-rule="evenodd" d="M726.8 283.8L690.2 284.2L673.2 283.2L646.2 283.2L598.2 287.2L567.8 287.8L552.8 289.8L540.8 294.8L534.2 299.2L526.2 307.8L516.2 323.8L508.8 331.8L501.8 335.8L494.2 337.8L486.8 338.2L476.2 336.8L465.2 333.2L454.2 328.2L443.8 325.8L418.8 325.2L412.2 327.8L407.2 331.2L398.2 340.8L394.8 346.2L385.2 366.2L375.8 380.8L366.8 388.2L351.2 396.2L337.8 405.2L331.8 410.2L326.8 416.2L323.8 424.2L323.2 445.8L321.2 455.8L319.2 460.8L301.8 493.8L293.8 505.2L280.2 520.8L273.8 529.8L269.2 538.8L267.2 548.8L726.8 548.8Z"/>
<path fill="#ffec00" fill-rule="evenodd" d="M726.8 286.8L646.8 285.8L597.8 290.2L574.2 289.8L552.2 291.8L541.2 296.8L531.8 304.8L525.2 313.8L516.8 329.8L510.8 335.8L504.2 339.2L493.8 341.8L483.2 341.2L474.8 339.2L451.8 329.2L445.8 327.8L418.8 326.8L413.8 328.8L407.8 333.2L399.2 342.8L386.8 368.8L377.2 383.8L370.8 389.2L353.2 397.8L337.2 407.8L328.2 416.8L325.8 423.2L326.8 449.8L323.8 460.8L312.8 479.2L302.2 499.8L292.2 512.2L280.2 524.8L275.2 531.8L271.2 539.8L269.2 548.8L726.8 548.8Z"/>
<path fill="#ffdf00" fill-rule="evenodd" d="M726.8 289.2L707.8 288.8L696.2 289.8L687.2 288.2L646.2 288.2L597.8 293.2L567.2 292.2L551.2 293.8L540.2 299.8L533.8 305.8L526.8 316.2L520.8 332.2L514.8 339.2L506.8 343.8L497.8 345.8L489.2 345.8L480.8 344.2L468.2 339.8L457.8 333.8L448.2 329.8L429.2 329.2L424.2 328.2L417.8 328.2L415.8 329.2L406.8 336.8L401.2 343.2L396.8 351.8L393.2 361.8L382.2 383.2L372.2 392.2L361.8 396.2L338.8 408.8L329.2 417.8L327.2 424.8L328.2 434.8L331.2 448.2L330.8 454.8L329.2 459.8L317.2 477.8L310.8 492.8L305.8 501.2L299.2 509.8L281.2 527.2L276.8 533.2L272.8 541.8L271.2 548.8L726.8 548.8Z"/>
<path fill="#ffd200" fill-rule="evenodd" d="M726.8 292.2L721.2 292.2L716.2 290.8L709.8 290.8L700.8 292.8L694.2 292.2L690.2 290.8L645.2 290.8L640.8 292.2L627.2 292.2L618.2 294.2L610.8 294.2L606.2 295.8L584.2 296.2L578.8 294.8L551.8 295.2L541.2 301.2L534.8 307.8L531.2 312.8L528.2 319.8L526.2 333.2L522.2 341.2L517.2 345.8L512.2 348.2L503.8 350.2L490.8 350.2L478.8 347.2L462.2 339.8L456.8 335.2L448.2 331.2L425.2 330.8L422.2 329.2L417.2 329.8L403.2 343.2L398.8 352.2L395.8 362.8L388.8 375.2L387.2 382.2L384.2 387.2L375.2 394.8L368.8 397.8L361.8 398.8L337.8 411.2L329.8 419.2L329.2 428.8L330.8 434.8L333.8 440.2L336.8 451.2L336.8 455.2L335.2 460.8L333.2 464.2L319.2 480.2L311.8 499.8L304.2 509.8L299.2 515.2L289.8 522.2L278.8 533.8L273.2 545.2L273.2 548.8L726.8 548.8Z"/>
<path fill="#ffc600" fill-rule="evenodd" d="M726.8 296.8L723.2 295.2L718.2 295.2L715.8 293.8L710.2 293.8L707.8 295.2L702.8 295.2L700.8 296.8L697.2 296.8L695.8 295.2L690.2 295.2L686.2 293.2L649.8 293.2L644.2 295.2L626.8 295.2L621.8 297.2L611.8 297.2L607.2 299.2L579.8 299.2L577.2 297.8L573.8 297.2L554.2 297.8L548.2 300.2L542.2 304.2L537.8 308.8L531.8 319.2L530.8 342.2L525.2 348.2L524.2 350.8L522.8 350.8L520.2 352.8L515.8 353.2L514.2 354.8L498.2 354.8L496.8 356.2L495.2 356.2L493.8 354.8L489.8 354.8L487.2 352.8L480.2 352.8L476.2 349.2L473.8 348.8L468.2 345.2L463.8 344.8L456.8 338.2L447.2 333.8L434.8 333.2L431.2 334.8L428.8 334.8L426.8 333.8L419.8 333.2L417.2 334.2L406.8 343.8L403.8 348.8L399.2 359.8L399.2 363.2L395.8 367.8L391.2 376.8L390.8 385.8L383.8 392.8L381.2 393.2L375.8 398.8L373.8 398.8L371.8 400.8L362.8 400.8L337.8 414.8L333.8 419.8L332.8 422.2L332.8 427.8L339.2 443.8L340.8 445.2L341.2 448.2L342.8 449.8L343.2 454.2L344.8 455.8L341.2 461.8L340.8 465.8L337.8 467.2L333.8 471.2L331.8 471.8L322.2 481.8L321.2 486.2L319.2 489.2L319.2 492.8L317.2 496.2L316.8 500.2L298.8 520.8L296.8 521.2L290.8 525.8L284.2 532.2L279.2 541.8L277.8 548.8L726.8 548.8Z"/>
<path fill="#ffb900" fill-rule="evenodd" d="M726.8 298.8L714.2 297.2L695.8 298.8L684.2 296.8L660.8 296.8L640.2 298.8L630.2 298.8L604.8 302.2L584.8 302.8L567.2 301.2L554.8 302.8L545.2 307.8L538.2 315.8L534.8 325.8L533.8 339.8L530.8 346.2L524.2 352.8L514.8 356.2L499.2 356.8L495.8 357.8L484.8 354.2L479.2 353.8L474.8 350.8L462.2 345.8L451.8 339.2L445.2 337.2L425.8 338.2L417.2 341.2L409.8 348.2L405.2 355.2L401.8 364.2L394.2 377.8L392.2 385.8L390.2 388.8L376.8 399.2L372.8 401.2L363.2 402.8L354.8 407.2L346.2 413.2L340.8 419.2L338.8 423.8L338.8 432.2L345.8 454.2L345.8 457.2L341.2 467.8L327.2 481.2L323.2 488.2L319.2 499.8L306.8 516.2L291.2 531.8L286.8 539.8L285.2 548.8L726.8 548.8Z"/>
<path fill="#ffac00" fill-rule="evenodd" d="M726.8 301.2L662.8 300.2L630.8 302.2L600.2 305.8L565.2 305.2L555.8 306.8L547.8 310.8L541.2 317.8L538.2 325.8L536.2 341.8L531.2 349.8L525.8 354.2L514.2 358.2L494.8 358.8L479.8 355.2L453.8 343.2L445.8 340.8L433.2 340.8L426.2 342.2L419.8 345.2L413.2 350.8L408.8 356.8L391.2 389.8L378.8 399.2L372.8 402.2L367.2 403.2L359.2 406.8L352.2 411.8L344.8 420.2L342.8 425.8L342.8 434.2L347.8 455.2L345.2 464.2L342.8 468.8L333.2 478.8L328.2 485.8L320.8 501.8L317.8 506.2L294.8 534.2L291.8 540.8L290.8 548.8L726.8 548.8Z"/>
<path fill="#ff9f00" fill-rule="evenodd" d="M726.8 304.2L670.2 303.2L653.8 305.2L635.8 305.2L623.8 307.2L605.2 307.8L599.2 309.2L557.8 309.8L548.8 314.2L543.8 319.8L540.2 331.2L539.8 341.8L534.8 350.2L525.2 357.2L513.8 360.2L494.8 360.2L481.2 357.2L454.2 346.2L445.2 343.8L432.2 344.2L422.2 348.2L418.2 351.2L411.8 358.8L396.2 385.8L390.2 392.8L379.2 400.2L361.8 407.2L356.8 410.8L348.8 419.8L346.8 424.2L345.8 429.8L346.8 439.8L349.2 449.8L349.2 458.8L347.8 463.8L344.2 470.2L332.8 484.2L319.2 508.2L299.8 533.2L296.2 540.8L295.2 548.8L726.8 548.8Z"/>
<path fill="#ff9300" fill-rule="evenodd" d="M726.8 308.8L719.2 307.2L667.2 307.8L659.8 309.8L634.2 309.8L627.2 311.8L609.2 311.8L601.8 313.8L572.2 314.2L560.2 315.8L553.2 319.2L548.2 324.8L544.8 333.8L544.2 342.2L540.2 349.2L531.8 356.8L525.8 359.8L517.8 361.8L501.8 362.2L491.8 361.2L479.2 358.2L452.8 348.2L442.8 346.2L435.2 346.8L424.8 350.8L415.2 359.8L398.8 385.8L390.8 394.2L379.8 401.2L362.2 408.8L352.8 418.2L350.2 423.2L348.8 429.8L349.2 438.8L351.8 451.2L351.2 459.8L349.2 465.8L346.2 471.2L335.2 485.8L321.2 509.8L304.8 531.2L300.2 540.2L299.2 548.8L726.8 548.8Z"/>
<path fill="#ff8600" fill-rule="evenodd" d="M726.8 314.2L675.8 315.8L609.2 321.2L576.8 325.8L566.8 328.8L558.2 333.8L554.2 337.8L543.8 351.8L537.8 356.8L529.2 361.2L519.8 363.8L505.8 364.2L491.2 362.8L475.2 358.8L446.8 349.2L436.8 349.2L428.2 352.2L423.2 355.8L417.2 362.2L404.2 382.2L396.2 391.8L383.2 400.8L365.8 408.2L355.8 417.8L351.8 427.8L351.8 437.8L354.2 452.2L353.8 459.2L351.8 465.8L349.2 470.8L338.2 486.2L327.8 504.8L307.2 532.8L303.2 541.8L302.2 548.8L726.8 548.8Z"/>
<path fill="#ff7900" fill-rule="evenodd" d="M726.8 320.8L711.8 320.8L685.2 323.8L676.2 323.8L668.2 325.2L617.8 329.2L590.8 333.2L565.8 340.2L560.2 343.2L547.8 354.8L537.8 361.2L528.2 364.8L519.2 366.2L507.2 366.2L490.8 364.2L444.2 351.2L436.8 351.8L429.2 354.8L423.2 359.8L407.2 382.8L396.2 394.2L388.8 399.2L366.8 409.2L361.2 413.8L357.2 419.2L354.2 427.2L354.2 437.8L356.8 451.2L356.8 456.8L354.2 466.2L331.2 504.2L309.2 534.8L306.2 541.8L305.2 548.8L726.8 548.8Z"/>
<path fill="#ff6c00" fill-rule="evenodd" d="M726.8 326.2L717.2 326.2L709.2 328.2L697.8 328.8L690.8 330.8L679.8 331.2L671.2 333.2L658.8 333.8L652.2 335.2L636.8 335.8L628.2 337.2L616.8 337.2L611.2 338.8L602.2 339.2L567.8 348.8L543.2 363.2L533.8 366.8L525.8 368.2L515.8 368.8L492.8 366.2L477.2 362.8L446.2 353.8L437.8 353.8L430.8 356.8L424.8 362.2L409.2 384.8L400.8 393.2L391.8 399.2L368.2 409.8L360.2 417.8L357.8 422.8L356.2 429.2L356.8 438.2L359.2 449.2L359.2 459.2L357.2 466.2L343.2 488.2L335.2 503.2L311.8 535.8L308.8 542.8L308.2 548.8L726.8 548.8Z"/>
<path fill="#ff6000" fill-rule="evenodd" d="M726.8 330.8L713.2 331.8L673.2 340.2L655.8 342.8L642.2 343.8L615.8 343.8L599.8 346.2L574.2 354.2L547.2 366.8L531.8 370.8L518.2 371.2L497.2 368.8L478.2 364.8L445.8 355.8L438.2 355.8L433.2 357.8L427.2 363.2L417.2 379.2L405.8 392.2L395.2 399.2L368.8 410.8L362.2 417.8L359.2 423.8L358.2 429.8L358.8 436.8L362.2 449.8L362.2 460.2L361.2 464.2L357.2 472.2L346.8 487.2L337.8 504.8L315.2 534.8L311.8 541.2L310.2 548.8L726.8 548.8Z"/>
<path fill="#ff5300" fill-rule="evenodd" d="M726.8 335.2L711.8 336.8L680.2 346.2L658.8 350.8L639.8 351.8L624.8 349.8L613.8 349.8L604.2 351.2L586.8 356.8L553.8 370.2L535.8 374.2L517.8 373.8L495.8 370.2L456.2 361.2L443.2 357.2L439.2 357.2L435.2 358.8L430.2 363.2L421.8 378.2L416.8 385.2L408.8 393.2L397.2 400.2L370.8 410.8L365.2 415.8L361.2 423.2L360.2 428.8L360.8 435.8L365.8 451.8L365.8 460.8L364.2 465.8L360.8 472.2L349.8 486.8L342.2 503.2L316.2 537.8L313.8 542.2L312.2 548.8L726.8 548.8Z"/>
<path fill="#ff4600" fill-rule="evenodd" d="M726.8 339.8L719.2 339.8L712.2 341.2L680.2 354.2L663.8 358.8L654.8 360.2L638.2 360.2L622.2 355.2L612.2 355.2L604.8 356.8L594.2 360.2L579.2 367.8L552.8 376.8L543.8 378.2L531.8 378.2L511.2 375.2L492.8 370.8L486.8 370.2L472.8 366.2L467.2 365.8L463.8 364.2L457.2 363.8L442.8 358.8L439.8 358.8L435.2 360.8L432.2 363.8L421.8 384.2L411.8 394.8L406.8 398.2L398.8 401.8L371.8 411.2L366.8 415.8L362.8 423.8L362.2 433.8L367.8 446.2L369.8 453.2L370.2 459.2L368.8 465.2L364.2 472.8L351.8 487.8L347.2 500.8L343.2 507.8L332.8 519.2L318.2 538.8L314.8 544.8L314.2 548.8L726.8 548.8Z"/>
<path fill="#ff3900" fill-rule="evenodd" d="M726.8 343.8L717.8 343.8L716.2 345.2L711.8 345.8L710.2 347.2L702.8 350.2L700.2 352.8L693.8 355.2L686.8 360.8L683.2 361.2L681.2 362.8L677.8 363.2L670.2 366.8L658.8 368.8L649.8 371.8L645.2 372.2L640.2 370.8L632.8 370.2L628.8 368.2L623.2 362.2L622.2 359.8L613.8 359.8L611.8 361.2L605.2 361.8L603.8 363.2L599.2 363.8L578.8 376.8L571.8 377.2L569.8 378.8L564.2 379.2L554.2 383.2L534.2 383.2L532.2 381.8L526.8 381.8L524.2 379.8L518.2 379.8L515.8 377.8L510.2 377.8L507.8 375.8L501.8 375.8L500.2 374.2L493.8 373.8L492.2 372.2L483.8 371.8L482.2 370.2L475.8 369.8L474.2 368.2L465.8 367.8L462.2 365.8L453.8 365.8L451.8 363.8L447.8 363.8L445.8 361.8L443.2 361.8L442.2 360.2L439.8 360.2L438.8 361.8L436.8 361.8L433.8 364.2L433.8 368.2L431.8 370.2L431.8 373.8L429.8 375.8L429.8 377.8L427.8 379.8L427.8 381.8L425.8 383.8L425.2 386.2L413.8 397.8L411.8 397.8L407.8 401.8L402.2 401.8L400.2 403.8L396.8 403.8L394.2 405.8L389.8 406.2L388.8 407.8L383.8 408.2L381.2 410.2L377.8 410.2L375.8 412.2L372.2 412.2L369.2 415.8L368.2 415.8L367.8 418.8L366.2 419.8L365.8 422.8L364.2 423.8L364.2 434.2L365.8 435.8L365.8 437.8L369.8 442.2L369.8 444.2L371.8 446.2L371.8 448.2L375.2 454.2L375.2 463.2L371.8 469.8L353.8 488.2L353.8 490.2L351.8 492.2L351.8 499.2L349.8 501.8L349.2 505.8L331.8 524.2L331.8 525.8L325.8 532.2L325.8 533.8L319.8 540.2L319.8 542.2L316.2 545.8L316.2 548.8L726.8 548.8Z"/>
<path fill="#ff2d00" fill-rule="evenodd" d="M726.8 352.2L718.8 352.8L709.8 355.2L682.8 368.2L650.8 378.2L639.2 379.2L626.8 378.2L617.8 376.2L608.8 376.2L599.8 378.2L582.2 384.8L552.8 390.2L533.2 388.2L499.2 377.2L471.2 370.8L466.8 370.8L460.2 369.2L445.2 369.2L441.8 370.2L435.2 376.2L429.2 385.2L428.2 388.2L415.2 400.2L408.8 404.8L392.2 412.8L385.8 417.2L380.2 423.2L376.8 433.2L377.2 441.8L380.2 454.2L378.2 464.8L376.2 468.8L370.8 475.8L358.2 488.2L355.2 493.8L354.2 499.2L351.2 506.8L336.2 522.8L330.2 531.2L323.8 542.2L322.2 548.8L726.8 548.8Z"/>
<path fill="#ff2000" fill-rule="evenodd" d="M726.8 360.2L720.2 360.2L710.8 362.2L673.8 376.8L648.8 384.2L635.8 386.2L609.8 388.2L580.8 394.8L561.8 396.8L547.2 396.2L532.8 393.2L500.2 380.8L478.2 374.8L462.2 372.8L451.8 373.2L445.8 374.8L439.8 378.2L429.8 390.2L416.2 403.2L400.2 414.8L390.8 424.2L385.8 433.8L384.2 441.2L383.8 456.2L379.2 468.8L371.8 478.8L361.2 489.8L352.2 508.2L339.2 522.8L332.8 532.2L328.2 540.8L326.8 548.8L726.8 548.8Z"/>
<path fill="#ff1300" fill-rule="evenodd" d="M726.8 366.8L718.2 367.2L705.2 370.2L664.8 385.2L644.2 391.8L605.8 400.8L580.2 404.8L560.2 404.8L541.8 401.8L524.8 395.8L498.8 383.2L480.8 377.8L471.8 376.2L456.8 376.2L448.2 378.2L438.2 384.8L398.8 424.8L392.8 435.2L387.2 457.8L383.2 467.8L376.2 477.8L364.2 490.8L353.2 509.8L336.8 530.2L332.2 538.8L330.2 548.8L726.8 548.8Z"/>
<path fill="#ff0600" fill-rule="evenodd" d="M726.8 373.2L715.8 373.8L702.8 376.8L671.8 387.8L619.8 408.2L604.8 412.8L587.2 415.2L565.8 414.2L544.8 409.8L533.8 405.8L521.8 399.8L496.2 385.2L479.2 379.8L462.8 378.8L455.8 379.8L448.2 382.2L438.8 388.8L418.8 409.2L405.8 424.8L398.2 438.2L391.2 458.8L386.8 468.2L381.2 476.2L366.8 492.2L356.2 508.8L339.8 529.8L335.2 538.2L333.2 545.2L333.2 548.8L726.8 548.8Z"/>
<path fill="#f90000" fill-rule="evenodd" d="M726.8 378.8L710.2 380.2L685.8 387.8L653.2 401.8L615.8 422.2L604.8 426.2L595.2 427.8L582.2 427.2L567.8 424.8L554.2 421.2L541.8 416.8L523.8 407.2L499.8 390.2L484.2 383.2L473.2 381.2L465.8 381.2L458.8 382.2L450.8 384.8L438.8 392.8L428.8 402.8L416.8 417.2L407.8 431.8L396.8 457.2L390.2 469.2L382.2 479.8L368.2 494.8L355.2 513.2L345.2 525.2L338.2 537.2L336.2 543.2L335.8 548.8L726.8 548.8Z"/>
<path fill="#ec0000" fill-rule="evenodd" d="M338.2 545.8L338.2 548.8L614.8 548.8L614.8 527.2L612.8 510.2L608.8 490.2L601.2 468.8L601.8 464.8L603.8 462.8L606.2 462.8L609.8 465.8L611.8 469.8L616.8 487.2L622.2 515.8L623.8 548.8L726.8 548.8L726.8 383.8L713.8 384.8L697.8 388.8L681.2 394.8L661.2 404.2L643.8 415.8L611.2 443.2L603.8 446.2L595.2 445.2L572.2 437.8L549.2 429.2L536.8 423.2L523.8 414.8L498.2 392.8L486.2 386.2L475.8 383.8L466.2 383.8L453.8 386.8L440.8 394.8L430.2 405.2L423.2 414.2L418.2 422.2L404.8 452.2L396.2 467.2L387.8 478.2L369.2 497.8L346.2 527.2L340.2 538.2Z"/>
<path fill="#df0000" fill-rule="evenodd" d="M726.8 388.8L713.2 389.8L699.2 393.2L684.2 398.8L667.8 406.8L654.2 416.2L645.8 424.8L634.2 441.2L630.8 448.8L628.8 455.8L628.2 471.2L634.8 517.2L636.2 548.8L726.8 548.8ZM340.2 546.8L340.2 548.8L605.8 548.8L606.2 521.8L605.2 508.2L602.2 493.8L596.8 479.8L590.2 466.8L582.8 457.8L572.2 450.8L542.8 436.8L528.2 427.8L516.2 416.8L499.2 397.2L491.2 391.2L484.2 387.8L478.8 386.2L465.8 386.2L457.8 388.2L448.2 392.8L440.2 398.8L431.8 407.8L422.8 421.8L413.8 446.2L404.8 462.8L393.8 476.8L371.8 498.8L350.8 524.2L342.8 537.8Z"/>
<path fill="#d20000" fill-rule="evenodd" d="M726.8 393.2L717.8 393.8L705.2 396.2L686.8 402.8L674.2 408.8L663.8 415.8L655.8 423.8L649.2 434.2L646.2 441.8L643.2 454.8L642.8 476.2L648.8 526.8L649.8 548.8L726.8 548.8ZM597.8 501.8L595.8 494.8L592.2 487.2L582.2 473.8L574.8 466.8L566.2 460.8L535.8 444.2L524.2 436.2L514.2 425.8L501.2 404.2L492.2 394.8L480.8 388.8L475.2 387.8L467.2 388.2L457.2 391.2L449.2 395.2L440.8 401.8L434.8 408.2L426.8 421.2L420.8 444.8L413.2 459.8L404.2 471.2L369.2 505.2L352.8 524.8L344.8 538.2L342.2 548.8L596.8 548.8L596.8 537.8L598.8 518.2Z"/>
<path fill="#c60000" fill-rule="evenodd" d="M726.8 397.8L716.2 398.2L707.2 400.2L682.2 409.8L666.8 419.8L663.2 423.2L658.8 430.2L656.8 435.8L655.2 444.8L655.2 466.2L657.2 492.2L662.8 529.2L663.8 548.8L726.8 548.8ZM592.2 502.8L590.2 496.2L587.2 491.2L578.2 482.2L555.8 466.8L527.2 451.8L518.2 445.2L513.2 440.2L506.2 429.2L501.2 411.8L498.2 405.8L489.2 395.2L479.8 390.2L467.8 390.2L451.8 396.8L442.8 403.2L436.8 409.8L432.8 415.8L429.2 423.8L427.2 445.8L422.2 457.2L414.8 467.2L405.2 476.8L381.2 496.8L356.2 523.2L351.8 529.2L345.8 540.8L344.2 548.8L586.8 548.8L587.8 535.8L592.2 514.8Z"/>
<path fill="#b90000" fill-rule="evenodd" d="M726.8 401.8L711.8 403.2L686.2 412.8L677.8 417.2L670.8 422.2L666.2 426.8L663.8 432.2L663.2 442.2L667.8 461.8L669.8 492.8L677.8 530.2L679.2 548.8L726.8 548.8ZM587.2 501.8L585.8 497.8L581.2 492.8L567.2 486.2L546.2 472.8L537.2 468.2L517.2 460.8L507.2 453.8L500.8 445.8L497.8 439.2L496.2 432.2L497.2 411.2L491.2 400.2L482.8 393.2L478.8 391.8L469.8 391.8L452.2 399.2L445.8 403.8L439.8 409.8L435.2 416.8L432.2 423.8L431.8 430.2L434.8 440.2L435.2 446.2L433.2 453.8L430.8 458.2L424.8 465.8L415.2 474.8L390.2 492.8L372.2 508.8L353.8 529.2L347.8 540.8L345.8 548.8L575.2 548.8L575.2 544.2L576.8 537.8L587.2 510.8Z"/>
<path fill="#ac0000" fill-rule="evenodd" d="M726.8 405.8L712.8 406.8L683.8 418.2L676.2 424.2L671.8 426.2L668.2 430.8L667.8 435.8L668.8 439.8L678.2 449.8L682.2 458.2L682.8 466.2L680.2 478.2L680.8 490.2L683.2 500.8L692.2 522.8L697.8 541.2L698.8 548.8L726.8 548.8ZM583.8 503.2L581.8 498.2L580.2 496.8L567.8 497.8L562.8 496.2L540.8 479.8L532.2 476.2L520.2 477.2L510.8 476.8L500.2 473.2L488.2 466.2L482.2 460.2L479.8 456.2L478.2 451.8L478.2 444.2L483.2 427.8L487.8 420.2L494.2 413.8L494.8 411.2L491.8 407.2L488.2 399.2L486.2 398.8L479.8 393.2L470.2 393.2L465.8 396.2L461.2 397.2L453.2 401.2L447.2 405.2L441.2 411.2L438.2 417.8L435.2 421.2L434.8 430.2L440.8 434.2L445.8 439.2L449.2 446.8L449.2 450.8L445.8 457.2L421.2 477.8L395.2 492.8L388.2 497.8L382.2 503.8L379.8 504.8L355.2 529.8L347.2 546.2L347.2 548.8L555.8 548.8L556.2 544.2L558.2 539.2L565.2 531.2L572.8 525.2L576.2 516.2L583.2 509.2Z"/>
<path fill="#9f0000" fill-rule="evenodd" d="M444.8 543.8L444.2 548.8L454.8 548.8L454.8 544.2L451.8 540.8L447.8 540.8ZM484.2 507.2L478.8 508.2L475.8 511.8L475.2 516.2L478.8 520.8L482.2 521.2L486.8 518.8L489.2 515.8L488.8 510.8ZM401.2 506.2L397.2 503.2L391.8 503.2L388.2 504.8L377.8 512.2L364.8 525.8L360.2 531.8L356.2 539.8L354.2 548.8L387.2 548.8L387.2 545.2L401.8 515.8L402.2 508.8ZM698.2 494.2L695.8 498.2L695.8 502.2L697.2 505.2L701.8 509.2L708.8 511.2L711.2 513.2L712.8 521.8L716.8 527.2L719.8 528.8L726.8 529.2L726.8 510.2L714.8 510.2L712.8 508.2L711.8 502.8L709.2 496.8L706.2 493.8L701.2 492.8ZM529.8 488.2L528.2 490.2L530.2 491.8L531.8 489.8ZM701.2 420.8L696.8 424.2L696.2 426.8L698.8 430.8L703.8 431.2L707.2 428.2L707.8 424.8L705.8 421.8ZM471.8 403.2L463.2 403.2L457.8 406.2L454.2 410.2L452.8 415.2L453.2 418.2L454.8 421.2L458.8 424.8L461.8 425.8L466.8 425.2L470.2 423.2L476.2 414.2L476.8 409.2L474.8 405.2Z"/>
<path fill="#930000" fill-rule="evenodd" d="M394.8 510.2L393.2 509.8L388.2 511.8L374.2 524.8L369.8 530.8L364.8 540.2L362.8 548.8L379.2 548.8L379.2 545.2L381.2 538.2L384.2 532.2L395.2 516.2L396.2 512.2ZM465.2 409.8L462.2 411.8L461.8 415.2L463.8 417.8L466.2 418.2L469.2 416.2L470.2 413.8L468.8 410.8Z"/>
</g>
<path d="M153.5,57V547 M235.5,57V547 M318.5,57V547 M400.5,57V547 M482.5,57V547 M564.5,57V547 M647.5,57V547 M78,72.5H725 M78,168.5H725 M78,264.5H725 M78,360.5H725 M78,455.5H725" stroke="#707070" stroke-width="1" stroke-dasharray="1.6 4.9" fill="none"/>
<path d="M457.5,138.5 470.5,141.5 483.5,147.5 488.5,151.5 498.5,149.5 505.5,153.5 509.5,155.5 514.5,154.5 526.5,151.5 540.5,148.1 556.5,149.5 580.5,146.9 588.5,146.5 M685.0,163.3 689.5,165.5 700.0,170.5 710.5,169.8 718.0,173.5 725.5,175.8 M376.5,217.9 386.5,222.5 399.5,228.5 404.5,233.5 407.5,245.5 408.5,245.5 409.5,241.5 416.5,233.5 421.5,225.5 424.5,213.5 431.5,206.5 428.5,199.5 420.5,193.5 411.5,190.5 M417.5,183.5 426.5,191.5 438.5,196.5 444.5,204.5 450.5,212.0 458.5,211.9 464.5,218.5 470.5,222.5 478.5,225.5 487.5,231.5 496.5,232.5 506.5,228.5 514.5,219.5 521.5,206.5 526.5,200.5 537.5,187.5 546.5,183.5 558.5,181.5 578.5,179.5 594.5,182.5 610.5,185.5 620.5,191.5 640.5,195.1 649.5,194.5 658.5,195.5 670.5,199.5 682.5,196.5 690.5,197.1 704.5,204.5 716.5,214.5 725.5,223.9 M295.5,258.5 305.5,257.9 316.5,260.5 321.5,264.5 322.5,273.5 323.5,285.5 325.5,293.5 330.5,305.5 336.5,317.5 335.5,329.5 338.5,330.5 346.5,326.5 358.5,317.5 370.5,305.5 382.5,297.5 395.5,285.5 396.5,285.5 410.5,281.5 430.5,279.1 450.5,277.5 458.0,276.5 462.5,275.1 480.5,270.5 490.5,263.5 510.5,251.5 530.5,235.5 546.5,228.5 564.5,222.5 574.5,216.5 580.5,213.1 589.5,217.1 598.5,214.5 612.5,220.5 629.5,225.5 646.5,223.5 650.5,224.5 654.5,226.5 670.5,229.5 682.5,235.5 690.5,242.5 700.5,246.5 710.5,248.5 718.5,252.5 725.5,250.5 M230.5,547.5 248.5,531.5 254.5,520.5 260.5,511.5 264.5,504.5 266.5,492.5 279.5,480.5 282.5,470.5 288.5,458.5 294.5,446.5 303.5,430.5 304.5,419.5 310.5,408.5 318.5,400.5 320.5,399.5 328.5,393.5 330.5,386.5 338.5,377.5 348.5,372.5 358.5,370.5 370.5,353.5 376.5,339.5 384.5,325.5 397.5,312.5 416.5,310.5 430.5,309.5 437.5,307.1 446.5,310.5 458.5,313.5 468.5,317.5 477.5,317.5 486.5,317.5 494.5,313.5 502.5,301.5 510.5,289.5 515.5,285.5 522.5,281.1 540.5,274.5 564.5,268.5 586.5,263.9 610.5,263.5 628.5,262.5 638.5,262.5 647.5,262.0 659.5,262.8 683.5,265.5 691.5,265.5 701.5,262.8 709.5,264.9 717.5,262.0 725.9,258.7 M272.5,546.5 282.5,528.5 298.5,517.5 315.5,498.5 319.5,480.5 326.5,472.5 338.5,464.5 342.5,454.5 339.5,444.5 332.5,432.5 328.5,420.5 334.5,412.5 346.5,406.5 359.5,400.5 370.5,398.5 376.5,395.5 388.5,385.5 388.5,377.5 396.5,363.5 400.5,349.5 406.5,339.5 417.5,328.5 428.5,332.5 438.5,331.5 442.5,331.5 450.5,333.5 462.5,342.5 478.5,350.5 494.5,354.5 510.5,353.5 522.5,349.5 528.5,341.5 530.5,315.5 538.5,303.5 550.5,295.5 562.5,294.5 584.5,297.5 600.5,297.5 620.5,294.5 642.5,292.5 667.5,290.5 680.5,290.9 688.5,292.5 698.2,295.8 706.5,292.9 712.1,290.5 721.0,294.2 725.9,294.5 M314.5,546.5 330.5,524.5 349.5,504.5 352.5,488.5 359.5,480.5 366.5,474.5 375.5,462.5 376.5,454.5 370.5,442.5 363.5,432.5 364.5,420.5 368.5,412.5 390.5,405.5 406.5,400.5 412.5,396.5 424.5,386.5 430.5,373.5 434.5,361.5 438.5,359.5 450.5,364.5 468.5,367.5 477.5,369.5 486.5,371.5 510.5,377.5 530.5,382.5 548.5,384.5 568.5,378.5 578.5,376.5 596.5,364.5 618.5,358.5 620.5,358.5 628.5,370.5 639.5,372.5 648.5,372.5 670.5,366.5 686.5,360.5 690.5,357.5 701.5,351.5 714.5,344.5 725.9,342.5 M468.5,393.5 472.5,393.5 478.5,394.5 486.5,400.5 493.5,411.5 484.5,413.5 477.5,416.5 473.5,422.5 469.5,430.5 462.5,435.5 454.5,433.5 448.5,426.5 442.5,426.5 436.5,428.5 435.5,420.5 441.5,412.5 444.5,407.5 454.5,400.5 464.5,396.5 468.5,393.5 M346.5,546.5 354.5,530.5 370.5,512.5 390.5,496.5 408.5,486.5 420.5,480.5 438.0,469.2 449.2,465.5 451.8,471.8 448.0,480.5 433.0,488.0 415.5,498.0 410.5,504.5 398.5,526.5 392.5,538.5 388.5,546.5 M413.0,547.5 420.5,533.0 428.0,528.0 440.5,531.8 458.0,536.5 473.0,533.0 475.5,525.5 468.0,516.8 450.5,515.5 438.0,516.8 435.5,514.2 450.5,513.0 468.0,505.5 464.2,498.0 466.8,485.5 483.0,485.5 500.5,486.8 504.2,493.0 508.0,499.2 511.8,496.8 523.0,485.5 529.5,479.5 538.0,482.0 539.0,489.5 543.5,490.5 549.0,492.5 552.5,497.5 539.5,499.0 530.5,509.5 525.5,510.5 513.0,520.5 510.5,533.0 500.5,547.5 M483.0,523.0 486.5,520.5 490.5,524.5 489.5,530.5 485.5,528.0 483.0,523.0 M548.5,519.0 553.0,521.0 552.0,524.0 547.0,523.5 546.5,521.5 548.5,519.0 M559.0,504.0 564.5,510.5 567.0,516.5 570.0,519.0 569.5,523.5 567.5,523.0 566.5,519.0 557.5,518.0 554.0,514.5 555.0,511.0 558.5,506.0 559.0,504.0 M580.0,498.0 581.5,504.5 580.0,509.0 576.0,507.5 573.5,505.5 576.0,500.0 580.0,498.0 M255.8,406.2 260.2,410.8 256.5,416.8 250.5,419.8 246.0,428.0 238.5,431.8 228.0,441.5 222.0,445.2 220.5,455.0 222.5,460.5 225.5,472.5 222.5,483.5 214.5,492.5 204.5,497.5 204.5,524.5 200.5,528.5 195.5,530.5 189.5,530.5 181.5,522.5 177.5,506.5 177.5,497.5 170.5,486.5 164.5,470.5 172.5,463.5 164.5,459.5 154.5,461.5 146.5,470.5 136.5,475.5 124.5,472.5 M154.5,449.5 171.5,449.5 175.5,449.5 183.5,449.5 191.5,441.5 199.5,434.0 210.0,428.0 223.5,422.8 235.5,421.2 242.2,417.5 245.2,413.0 M107.5,547.5 124.5,531.5 137.5,538.5 162.5,546.5 M726.5,406.5 710.5,408.5 702.5,412.5 690.5,417.5 680.5,420.5 674.5,426.5 669.5,429.5 668.5,436.5 672.5,438.9 687.5,438.9 695.5,440.5 696.5,446.5 693.5,454.5 702.5,455.5 710.5,451.5 714.5,444.5 710.5,438.5 703.5,437.5 710.5,435.5 722.5,433.5 726.5,432.5 M726.5,416.5 722.5,419.5 726.5,422.5 M725.5,534.5 718.5,533.5 709.5,534.5 704.5,530.5 701.5,518.5 696.5,508.5 688.5,496.5 684.5,480.5 685.5,475.5 697.5,470.5 705.5,469.5 710.5,469.5 713.5,472.5 714.5,484.5 715.5,497.5 720.5,502.5 725.5,496.5" fill="none" stroke="#000" stroke-width="1" stroke-linejoin="round"/>
<ellipse cx="345.5" cy="325.5" rx="3" ry="2.3" fill="#fff" stroke="#000" stroke-width="1.1"/>
<ellipse cx="680.5" cy="471" rx="1.3" ry="1.6" fill="none" stroke="#000" stroke-width="0.9"/>
<rect x="505" y="148" width="8" height="12" fill="#fff"/>
<text transform="translate(506.08,159.00) scale(0.9079,1)" font-family="Liberation Sans, sans-serif" font-size="11.59" >5</text>
<rect x="397" y="244" width="18" height="12" fill="#fff"/>
<text transform="translate(398.04,255.00) scale(0.9876,1)" font-family="Liberation Sans, sans-serif" font-size="11.59" >5.5</text>
<rect x="478" y="225" width="18" height="12" fill="#fff"/>
<text transform="translate(479.04,236.00) scale(0.9876,1)" font-family="Liberation Sans, sans-serif" font-size="11.59" >5.5</text>
<rect x="640" y="186" width="18" height="12" fill="#fff"/>
<text transform="translate(641.04,197.00) scale(0.9876,1)" font-family="Liberation Sans, sans-serif" font-size="11.59" >5.5</text>
<rect x="454" y="270" width="8" height="12" fill="#fff"/>
<text transform="translate(454.96,281.00) scale(0.9274,1)" font-family="Liberation Sans, sans-serif" font-size="11.59" >6</text>
<rect x="646" y="215" width="8" height="12" fill="#fff"/>
<text transform="translate(646.96,226.00) scale(0.9274,1)" font-family="Liberation Sans, sans-serif" font-size="11.59" >6</text>
<rect x="629" y="253" width="18" height="12" fill="#fff"/>
<text transform="translate(629.92,264.00) scale(0.9952,1)" font-family="Liberation Sans, sans-serif" font-size="11.59" >6.5</text>
<rect x="468" y="311" width="18" height="12" fill="#fff"/>
<text transform="translate(468.92,322.00) scale(0.9952,1)" font-family="Liberation Sans, sans-serif" font-size="11.59" >6.5</text>
<rect x="434" y="322" width="8" height="12" fill="#fff"/>
<text transform="translate(434.95,333.00) scale(0.9478,1)" font-family="Liberation Sans, sans-serif" font-size="11.59" >7</text>
<rect x="596" y="290" width="8" height="12" fill="#fff"/>
<text transform="translate(596.95,301.00) scale(0.9478,1)" font-family="Liberation Sans, sans-serif" font-size="11.59" >7</text>
<rect x="468" y="362" width="18" height="12" fill="#fff"/>
<text transform="translate(468.92,373.00) scale(0.9952,1)" font-family="Liberation Sans, sans-serif" font-size="11.59" >7.5</text>
<rect x="630" y="366" width="18" height="12" fill="#fff"/>
<text transform="translate(630.92,377.00) scale(0.9952,1)" font-family="Liberation Sans, sans-serif" font-size="11.59" >7.5</text>
<rect x="464" y="386" width="8" height="12" fill="#fff"/>
<text transform="translate(465.02,397.00) scale(0.9176,1)" font-family="Liberation Sans, sans-serif" font-size="11.59" >8</text>
<rect x="444" y="454" width="8" height="12" fill="#fff"/>
<text transform="translate(445.02,465.00) scale(0.9176,1)" font-family="Liberation Sans, sans-serif" font-size="11.59" >8</text>
<rect x="454" y="531" width="8" height="12" fill="#fff"/>
<text transform="translate(455.02,542.00) scale(0.9176,1)" font-family="Liberation Sans, sans-serif" font-size="11.59" >8</text>
<rect x="525" y="472" width="8" height="12" fill="#fff"/>
<text transform="translate(526.02,483.00) scale(0.9176,1)" font-family="Liberation Sans, sans-serif" font-size="11.59" >8</text>
<rect x="191" y="524" width="8" height="12" fill="#fff"/>
<text transform="translate(191.96,535.00) scale(0.9274,1)" font-family="Liberation Sans, sans-serif" font-size="11.59" >6</text>
<rect x="171" y="443" width="8" height="12" fill="#fff"/>
<text transform="translate(171.96,454.00) scale(0.9274,1)" font-family="Liberation Sans, sans-serif" font-size="11.59" >6</text>
<rect x="687" y="430" width="8" height="12" fill="#fff"/>
<text transform="translate(688.02,441.00) scale(0.9176,1)" font-family="Liberation Sans, sans-serif" font-size="11.59" >8</text>
<rect x="697" y="460" width="8" height="12" fill="#fff"/>
<text transform="translate(698.02,471.00) scale(0.9176,1)" font-family="Liberation Sans, sans-serif" font-size="11.59" >8</text>
<path d="M482.5,53.5 478.5,56.1 468.5,58.5 460.5,60.9 452.5,63.5 444.5,67.5 441.5,71.1 445.5,75.5 446.5,80.5 446.5,89.5 443.5,95.5 438.5,100.1 432.5,102.5 426.9,104.1 427.5,109.5 429.5,114.1 427.5,120.1 420.5,125.5 414.5,132.5 410.5,136.5 404.5,142.5 402.5,148.5 397.5,154.5 388.5,161.5 380.5,166.9 376.5,170.5 371.5,176.5 369.5,181.5 364.5,187.5 358.5,192.5 352.5,195.5 344.5,200.1 340.5,204.5 334.5,207.5 331.8,208.0 320.5,216.8 313.0,222.4 305.5,229.2 295.5,236.8 288.0,240.5 280.5,245.5 273.0,249.2 269.9,251.1 263.0,256.8 255.5,264.2 262.2,258.0 251.8,269.2 259.2,276.0 263.8,270.8 269.8,276.0 277.2,273.0 277.2,282.8 279.5,294.0 278.0,304.5 272.8,316.5 270.5,319.5 257.0,319.8 257.0,327.0 262.2,330.8 267.5,333.0 266.8,333.5 263.0,338.0 262.2,345.5 262.2,360.5 258.5,371.0 257.0,381.5 254.0,389.0 248.0,394.7 236.0,395.0 222.5,397.2 198.5,398.8 180.5,401.8 M335.8,103.8 341.0,96.4 350.3,93.3 361.6,105.3 367.8,100.5 378.2,113.5 383.3,117.7 389.5,124.9 389.5,132.2 397.8,140.5 395.8,149.8 389.5,153.9 380.2,133.2 374.0,128.0 365.8,125.4 358.5,124.3 350.3,119.8 341.0,112.5 335.8,103.8 M271.5,248.5 275.5,244.2 283.0,239.2 293.0,234.2 294.2,231.8 288.0,226.8 288.5,220.5 291.1,217.4 299.2,214.9 304.9,219.9 305.5,207.4 311.1,213.0 313.0,202.4 319.2,199.2 326.8,204.9 335.5,203.5 336.1,192.4 342.4,198.6 343.0,204.2 M264.2,256.1 255.5,255.5 253.0,253.0 253.0,231.8 259.2,215.5 258.6,204.2 267.4,207.4 267.4,228.0 272.4,233.0 274.9,243.0 275.5,244.5 M120.0,429.5 123.5,417.5 125.0,411.5 134.5,408.5 142.5,406.5 145.5,399.5 143.5,395.5 141.8,390.5 136.5,386.0 132.8,378.5 133.5,371.0 138.0,366.5 145.5,362.0 148.5,359.8 157.5,360.5 165.8,362.0 171.8,367.2 166.5,371.0 161.2,378.5 161.2,387.5 166.5,391.2 177.8,393.5 178.5,396.5 176.5,399.5 170.5,403.0 156.5,408.0 149.5,409.0 153.5,418.0 165.5,410.0 180.5,401.5 190.5,400.2 M120.0,429.5 125.5,429.0 131.5,424.5 139.0,416.0 146.5,418.0 152.5,423.5 145.0,429.5 147.5,422.5 142.5,421.0 136.5,422.5 127.5,430.5 120.0,435.5 115.0,442.5 114.5,444.5 113.5,453.5 111.5,464.0 115.5,459.0 122.5,451.5 126.5,447.5 133.5,443.5 142.5,435.5 M142.5,435.5 136.5,443.5 131.5,452.5 122.5,461.5 111.5,470.5 106.5,477.5 103.5,485.5 95.5,488.5 93.5,494.5 93.0,498.5 95.5,506.5 99.0,517.5 93.0,523.5 95.5,530.5 97.5,538.5 98.0,548.5 M569.5,58.9 593.5,82.1 M575.5,64.0 580.5,64.9 600.5,62.9 616.5,65.5 630.5,68.5 640.5,69.2 645.5,70.5 649.2,72.8 660.5,71.8 680.5,72.4 690.5,75.5 695.5,78.5 703.0,79.9 710.5,77.4 713.5,72.5 715.5,67.4 725.5,59.9 M593.5,82.1 598.5,74.5 608.5,74.1 620.5,77.5 636.5,83.5 640.5,83.0 648.0,81.8 653.0,87.5 658.0,95.5 650.5,96.8 640.5,103.0 624.5,102.5 609.5,108.5 616.5,115.5 620.5,115.8 631.0,112.3 638.5,113.5 647.5,118.8 655.0,118.8 661.0,121.8 668.5,129.7 685.0,132.2 691.0,140.5 701.5,147.2 716.5,151.8 725.5,153.2 M668.0,53.5 669.5,59.2 673.0,61.1 678.0,58.0 684.2,54.2 690.5,54.9 698.0,61.1 715.5,61.1 725.5,56.1 M569.0,99.2 565.5,103.9 569.0,112.2 576.1,119.4 595.1,124.1 618.9,127.7 647.4,132.5 670.0,137.9 M569.0,99.2 571.5,106.5 577.5,115.0 582.5,120.5 611.5,128.9 640.3,134.1 670.0,137.9" fill="none" stroke="#000" stroke-width="2.9" stroke-linejoin="round" stroke-linecap="round"/>
<rect x="73" y="53" width="653" height="495" fill="none" stroke="#000" stroke-width="2"/>
<path d="M153.5,549V552 M235.5,549V552 M318.5,549V552 M400.5,549V552 M482.5,549V552 M564.5,549V552 M647.5,549V552 M69,72.5H72 M69,168.5H72 M69,264.5H72 M69,360.5H72 M69,455.5H72" stroke="#000" stroke-width="1" fill="none"/>
<text transform="translate(146.50,562.80) scale(0.9849,1)" font-family="Liberation Sans, sans-serif" font-size="12.75" >29</text>
<text transform="translate(223.25,562.80) scale(0.9828,1)" font-family="Liberation Sans, sans-serif" font-size="12.75" >29.5</text>
<text transform="translate(311.63,562.80) scale(0.9659,1)" font-family="Liberation Sans, sans-serif" font-size="12.75" >30</text>
<text transform="translate(388.38,562.80) scale(0.9775,1)" font-family="Liberation Sans, sans-serif" font-size="12.75" >30.5</text>
<text transform="translate(475.63,562.80) scale(0.9753,1)" font-family="Liberation Sans, sans-serif" font-size="12.75" >31</text>
<text transform="translate(552.38,562.80) scale(0.9775,1)" font-family="Liberation Sans, sans-serif" font-size="12.75" >31.5</text>
<text transform="translate(640.62,562.80) scale(0.9801,1)" font-family="Liberation Sans, sans-serif" font-size="12.75" >32</text>
<text transform="translate(41.75,77.00) scale(0.9761,1)" font-family="Liberation Sans, sans-serif" font-size="13.04" >46.5</text>
<text transform="translate(52.75,173.00) scale(0.9492,1)" font-family="Liberation Sans, sans-serif" font-size="13.04" >46</text>
<text transform="translate(41.75,269.00) scale(0.9761,1)" font-family="Liberation Sans, sans-serif" font-size="13.04" >45.5</text>
<text transform="translate(52.75,365.00) scale(0.9492,1)" font-family="Liberation Sans, sans-serif" font-size="13.04" >45</text>
<text transform="translate(41.75,460.00) scale(0.9761,1)" font-family="Liberation Sans, sans-serif" font-size="13.04" >44.5</text>
<text transform="translate(54.53,42.00) scale(0.8500,1)" font-family="Liberation Sans, sans-serif" font-size="27.54" stroke="#fff" stroke-width="0.4" letter-spacing="1.070">Temperature</text>
<text transform="translate(209.60,42.00) scale(0.8500,1)" font-family="Liberation Sans, sans-serif" font-size="27.54" stroke="#fff" stroke-width="0.4" letter-spacing="1.388">(C).</text>
<text transform="translate(264.54,42.00) scale(0.8434,1)" font-family="Liberation Sans, sans-serif" font-size="27.54" stroke="#fff" stroke-width="0.4">Date</text>
<text transform="translate(328.83,42.00) scale(0.8500,1)" font-family="Liberation Sans, sans-serif" font-size="27.54" stroke="#fff" stroke-width="0.4" letter-spacing="1.611">2013.03.20.</text>
<text transform="translate(480.78,42.00) scale(0.8479,1)" font-family="Liberation Sans, sans-serif" font-size="27.54" stroke="#fff" stroke-width="0.4">Time</text>
<text transform="translate(545.56,42.00) scale(0.8500,1)" font-family="Liberation Sans, sans-serif" font-size="27.54" stroke="#fff" stroke-width="0.4" letter-spacing="2.401">00(h):00(m)</text>
<text transform="translate(700.39,42.00) scale(0.7331,1)" font-family="Liberation Sans, sans-serif" font-size="27.54" stroke="#fff" stroke-width="0.4">GMT</text>
<text transform="translate(110.25,107.10) scale(1.0602,1)" font-family="Liberation Sans, sans-serif" font-size="20.58" stroke="#fff" stroke-width="0.6">Z</text>
<text transform="translate(137.52,107.10) scale(1.4427,1)" font-family="Liberation Sans, sans-serif" font-size="20.58" stroke="#fff" stroke-width="0.6">=</text>
<text transform="translate(169.68,107.10) scale(1.1905,1)" font-family="Liberation Sans, sans-serif" font-size="20.58" stroke="#fff" stroke-width="0.6">2.5</text>
<text transform="translate(218.88,107.10) scale(1.1372,1)" font-family="Liberation Sans, sans-serif" font-size="20.58" stroke="#fff" stroke-width="0.6">m</text>
<text transform="translate(322.60,588.40) scale(0.8500,1)" font-family="Liberation Sans, sans-serif" font-size="19.13"  letter-spacing="2.242">Longitude</text>
<text transform="translate(420.27,588.40) scale(0.8500,1)" font-family="Liberation Sans, sans-serif" font-size="19.13"  letter-spacing="2.768">(East)</text>
<text transform="translate(29.75,370.42) rotate(-90) scale(0.8500,1)" font-family="Liberation Sans, sans-serif" font-size="19.57"  letter-spacing="1.996">Latitude</text>
<text transform="translate(29.75,288.90) rotate(-90) scale(0.8500,1)" font-family="Liberation Sans, sans-serif" font-size="19.57"  letter-spacing="2.132">(North)</text>
<rect x="734" y="534.99" width="15" height="6.21" fill="#000086"/>
<rect x="734" y="528.98" width="15" height="6.21" fill="#000093"/>
<rect x="734" y="522.96" width="15" height="6.21" fill="#00009f"/>
<rect x="734" y="516.95" width="15" height="6.21" fill="#0000ac"/>
<rect x="734" y="510.94" width="15" height="6.21" fill="#0000b9"/>
<rect x="734" y="504.93" width="15" height="6.21" fill="#0000c6"/>
<rect x="734" y="498.91" width="15" height="6.21" fill="#0000d2"/>
<rect x="734" y="492.90" width="15" height="6.21" fill="#0000df"/>
<rect x="734" y="486.89" width="15" height="6.21" fill="#0000ec"/>
<rect x="734" y="480.88" width="15" height="6.21" fill="#0000f9"/>
<rect x="734" y="474.86" width="15" height="6.21" fill="#0006ff"/>
<rect x="734" y="468.85" width="15" height="6.21" fill="#0013ff"/>
<rect x="734" y="462.84" width="15" height="6.21" fill="#0020ff"/>
<rect x="734" y="456.82" width="15" height="6.21" fill="#002dff"/>
<rect x="734" y="450.81" width="15" height="6.21" fill="#0039ff"/>
<rect x="734" y="444.80" width="15" height="6.21" fill="#0046ff"/>
<rect x="734" y="438.79" width="15" height="6.21" fill="#0053ff"/>
<rect x="734" y="432.77" width="15" height="6.21" fill="#0060ff"/>
<rect x="734" y="426.76" width="15" height="6.21" fill="#006cff"/>
<rect x="734" y="420.75" width="15" height="6.21" fill="#0079ff"/>
<rect x="734" y="414.74" width="15" height="6.21" fill="#0086ff"/>
<rect x="734" y="408.73" width="15" height="6.21" fill="#0093ff"/>
<rect x="734" y="402.71" width="15" height="6.21" fill="#009fff"/>
<rect x="734" y="396.70" width="15" height="6.21" fill="#00acff"/>
<rect x="734" y="390.69" width="15" height="6.21" fill="#00b9ff"/>
<rect x="734" y="384.67" width="15" height="6.21" fill="#00c6ff"/>
<rect x="734" y="378.66" width="15" height="6.21" fill="#00d2ff"/>
<rect x="734" y="372.65" width="15" height="6.21" fill="#00dfff"/>
<rect x="734" y="366.64" width="15" height="6.21" fill="#00ecff"/>
<rect x="734" y="360.62" width="15" height="6.21" fill="#00f9ff"/>
<rect x="734" y="354.61" width="15" height="6.21" fill="#06fff9"/>
<rect x="734" y="348.60" width="15" height="6.21" fill="#13ffec"/>
<rect x="734" y="342.59" width="15" height="6.21" fill="#20ffdf"/>
<rect x="734" y="336.57" width="15" height="6.21" fill="#2dffd2"/>
<rect x="734" y="330.56" width="15" height="6.21" fill="#39ffc6"/>
<rect x="734" y="324.55" width="15" height="6.21" fill="#46ffb9"/>
<rect x="734" y="318.54" width="15" height="6.21" fill="#53ffac"/>
<rect x="734" y="312.52" width="15" height="6.21" fill="#60ff9f"/>
<rect x="734" y="306.51" width="15" height="6.21" fill="#6cff93"/>
<rect x="734" y="300.50" width="15" height="6.21" fill="#79ff86"/>
<rect x="734" y="294.49" width="15" height="6.21" fill="#86ff79"/>
<rect x="734" y="288.48" width="15" height="6.21" fill="#93ff6c"/>
<rect x="734" y="282.46" width="15" height="6.21" fill="#9fff60"/>
<rect x="734" y="276.45" width="15" height="6.21" fill="#acff53"/>
<rect x="734" y="270.44" width="15" height="6.21" fill="#b9ff46"/>
<rect x="734" y="264.43" width="15" height="6.21" fill="#c6ff39"/>
<rect x="734" y="258.41" width="15" height="6.21" fill="#d2ff2d"/>
<rect x="734" y="252.40" width="15" height="6.21" fill="#dfff20"/>
<rect x="734" y="246.39" width="15" height="6.21" fill="#ecff13"/>
<rect x="734" y="240.38" width="15" height="6.21" fill="#f9ff06"/>
<rect x="734" y="234.36" width="15" height="6.21" fill="#fff900"/>
<rect x="734" y="228.35" width="15" height="6.21" fill="#ffec00"/>
<rect x="734" y="222.34" width="15" height="6.21" fill="#ffdf00"/>
<rect x="734" y="216.32" width="15" height="6.21" fill="#ffd200"/>
<rect x="734" y="210.31" width="15" height="6.21" fill="#ffc600"/>
<rect x="734" y="204.30" width="15" height="6.21" fill="#ffb900"/>
<rect x="734" y="198.29" width="15" height="6.21" fill="#ffac00"/>
<rect x="734" y="192.27" width="15" height="6.21" fill="#ff9f00"/>
<rect x="734" y="186.26" width="15" height="6.21" fill="#ff9300"/>
<rect x="734" y="180.25" width="15" height="6.21" fill="#ff8600"/>
<rect x="734" y="174.24" width="15" height="6.21" fill="#ff7900"/>
<rect x="734" y="168.22" width="15" height="6.21" fill="#ff6c00"/>
<rect x="734" y="162.21" width="15" height="6.21" fill="#ff6000"/>
<rect x="734" y="156.20" width="15" height="6.21" fill="#ff5300"/>
<rect x="734" y="150.19" width="15" height="6.21" fill="#ff4600"/>
<rect x="734" y="144.18" width="15" height="6.21" fill="#ff3900"/>
<rect x="734" y="138.16" width="15" height="6.21" fill="#ff2d00"/>
<rect x="734" y="132.15" width="15" height="6.21" fill="#ff2000"/>
<rect x="734" y="126.14" width="15" height="6.21" fill="#ff1300"/>
<rect x="734" y="120.12" width="15" height="6.21" fill="#ff0600"/>
<rect x="734" y="114.11" width="15" height="6.21" fill="#f90000"/>
<rect x="734" y="108.10" width="15" height="6.21" fill="#ec0000"/>
<rect x="734" y="102.09" width="15" height="6.21" fill="#df0000"/>
<rect x="734" y="96.07" width="15" height="6.21" fill="#d20000"/>
<rect x="734" y="90.06" width="15" height="6.21" fill="#c60000"/>
<rect x="734" y="84.05" width="15" height="6.21" fill="#b90000"/>
<rect x="734" y="78.04" width="15" height="6.21" fill="#ac0000"/>
<rect x="734" y="72.02" width="15" height="6.21" fill="#9f0000"/>
<rect x="734" y="66.01" width="15" height="6.21" fill="#930000"/>
<rect x="734" y="60.00" width="15" height="6.21" fill="#860000"/>
<text transform="translate(760.33,72.00) scale(1.0202,1)" font-family="Liberation Sans, sans-serif" font-size="14.49" stroke="#fff" stroke-width="0.3">8.15</text>
<text transform="translate(760.26,185.00) scale(1.0257,1)" font-family="Liberation Sans, sans-serif" font-size="14.49" stroke="#fff" stroke-width="0.3">7.31</text>
<text transform="translate(760.25,303.00) scale(1.0285,1)" font-family="Liberation Sans, sans-serif" font-size="14.49" stroke="#fff" stroke-width="0.3">6.42</text>
<text transform="translate(760.41,422.00) scale(1.0120,1)" font-family="Liberation Sans, sans-serif" font-size="14.49" stroke="#fff" stroke-width="0.3">5.54</text>
<text transform="translate(760.71,540.00) scale(1.0066,1)" font-family="Liberation Sans, sans-serif" font-size="14.49" stroke="#fff" stroke-width="0.3">4.65</text>
</svg></body></html>
